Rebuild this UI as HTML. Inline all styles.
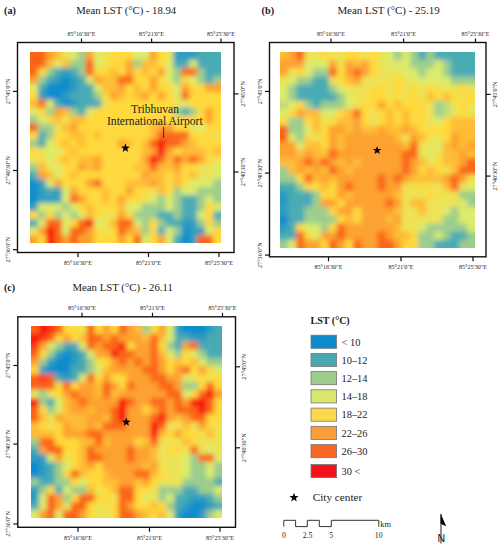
<!DOCTYPE html>
<html><head><meta charset="utf-8"><style>
html,body{margin:0;padding:0;background:#fff;width:502px;height:550px;overflow:hidden}
svg{display:block}
text{font-family:"Liberation Serif",serif;fill:#1a1a1a}
.sm{font-size:6.1px;fill:#1e1e1e}
.lab{font-size:10.2px;font-weight:bold}
.ttl{font-size:10.7px}
.ann{font-size:11.6px;fill:#222}
.lgt{font-size:10px;font-weight:bold}
.lg{font-size:10.4px;fill:#222}
.cc{font-size:11.2px;fill:#222}
.sb{font-size:7.8px;fill:#222}
.na{font-size:10.5px;fill:#111;font-family:"Liberation Sans",sans-serif}
</style></head><body>
<svg width="502" height="550" viewBox="0 0 502 550">
<defs><filter id="bl" x="-10%" y="-10%" width="120%" height="120%"><feGaussianBlur stdDeviation="2.4"/></filter></defs>
<clipPath id="cpa"><rect x="30" y="52" width="191" height="191"/></clipPath><g clip-path="url(#cpa)"><g filter="url(#bl)"><rect x="22.00" y="44.00" width="16.26" height="16.26" fill="#fa6419"/><rect x="37.96" y="44.00" width="8.26" height="16.26" fill="#fa6419"/><rect x="45.92" y="44.00" width="8.26" height="16.26" fill="#fda02d"/><rect x="53.88" y="44.00" width="8.26" height="16.26" fill="#febc34"/><rect x="61.83" y="44.00" width="8.26" height="16.26" fill="#eee252"/><rect x="69.79" y="44.00" width="8.26" height="16.26" fill="#dceb69"/><rect x="77.75" y="44.00" width="8.26" height="16.26" fill="#9bcd8c"/><rect x="85.71" y="44.00" width="8.26" height="16.26" fill="#fda02d"/><rect x="93.67" y="44.00" width="8.26" height="16.26" fill="#dceb69"/><rect x="101.62" y="44.00" width="8.26" height="16.26" fill="#eee252"/><rect x="109.58" y="44.00" width="8.26" height="16.26" fill="#ffd93a"/><rect x="117.54" y="44.00" width="8.26" height="16.26" fill="#ffd93a"/><rect x="125.50" y="44.00" width="8.26" height="16.26" fill="#ffd93a"/><rect x="133.46" y="44.00" width="8.26" height="16.26" fill="#dceb69"/><rect x="141.42" y="44.00" width="8.26" height="16.26" fill="#dceb69"/><rect x="149.38" y="44.00" width="8.26" height="16.26" fill="#fda02d"/><rect x="157.33" y="44.00" width="8.26" height="16.26" fill="#ffd93a"/><rect x="165.29" y="44.00" width="8.26" height="16.26" fill="#eee252"/><rect x="173.25" y="44.00" width="8.26" height="16.26" fill="#2b9bc0"/><rect x="181.21" y="44.00" width="8.26" height="16.26" fill="#2b9bc0"/><rect x="189.17" y="44.00" width="8.26" height="16.26" fill="#2b9bc0"/><rect x="197.12" y="44.00" width="8.26" height="16.26" fill="#46aab4"/><rect x="205.08" y="44.00" width="8.26" height="16.26" fill="#46aab4"/><rect x="213.04" y="44.00" width="16.26" height="16.26" fill="#46aab4"/><rect x="22.00" y="59.96" width="16.26" height="8.26" fill="#fa6419"/><rect x="37.96" y="59.96" width="8.26" height="8.26" fill="#fa6419"/><rect x="45.92" y="59.96" width="8.26" height="8.26" fill="#febc34"/><rect x="53.88" y="59.96" width="8.26" height="8.26" fill="#dceb69"/><rect x="61.83" y="59.96" width="8.26" height="8.26" fill="#febc34"/><rect x="69.79" y="59.96" width="8.26" height="8.26" fill="#9bcd8c"/><rect x="77.75" y="59.96" width="8.26" height="8.26" fill="#9bcd8c"/><rect x="85.71" y="59.96" width="8.26" height="8.26" fill="#fa6419"/><rect x="93.67" y="59.96" width="8.26" height="8.26" fill="#dceb69"/><rect x="101.62" y="59.96" width="8.26" height="8.26" fill="#eee252"/><rect x="109.58" y="59.96" width="8.26" height="8.26" fill="#ffd93a"/><rect x="117.54" y="59.96" width="8.26" height="8.26" fill="#ffd93a"/><rect x="125.50" y="59.96" width="8.26" height="8.26" fill="#fda02d"/><rect x="133.46" y="59.96" width="8.26" height="8.26" fill="#9bcd8c"/><rect x="141.42" y="59.96" width="8.26" height="8.26" fill="#febc34"/><rect x="149.38" y="59.96" width="8.26" height="8.26" fill="#febc34"/><rect x="157.33" y="59.96" width="8.26" height="8.26" fill="#ffd93a"/><rect x="165.29" y="59.96" width="8.26" height="8.26" fill="#dceb69"/><rect x="173.25" y="59.96" width="8.26" height="8.26" fill="#46aab4"/><rect x="181.21" y="59.96" width="8.26" height="8.26" fill="#46aab4"/><rect x="189.17" y="59.96" width="8.26" height="8.26" fill="#dceb69"/><rect x="197.12" y="59.96" width="8.26" height="8.26" fill="#46aab4"/><rect x="205.08" y="59.96" width="8.26" height="8.26" fill="#46aab4"/><rect x="213.04" y="59.96" width="16.26" height="8.26" fill="#46aab4"/><rect x="22.00" y="67.92" width="16.26" height="8.26" fill="#fa6419"/><rect x="37.96" y="67.92" width="8.26" height="8.26" fill="#ffd93a"/><rect x="45.92" y="67.92" width="8.26" height="8.26" fill="#9bcd8c"/><rect x="53.88" y="67.92" width="8.26" height="8.26" fill="#46aab4"/><rect x="61.83" y="67.92" width="8.26" height="8.26" fill="#2b9bc0"/><rect x="69.79" y="67.92" width="8.26" height="8.26" fill="#46aab4"/><rect x="77.75" y="67.92" width="8.26" height="8.26" fill="#9bcd8c"/><rect x="85.71" y="67.92" width="8.26" height="8.26" fill="#fa6419"/><rect x="93.67" y="67.92" width="8.26" height="8.26" fill="#ffd93a"/><rect x="101.62" y="67.92" width="8.26" height="8.26" fill="#ffd93a"/><rect x="109.58" y="67.92" width="8.26" height="8.26" fill="#febc34"/><rect x="117.54" y="67.92" width="8.26" height="8.26" fill="#ffd93a"/><rect x="125.50" y="67.92" width="8.26" height="8.26" fill="#fda02d"/><rect x="133.46" y="67.92" width="8.26" height="8.26" fill="#ffd93a"/><rect x="141.42" y="67.92" width="8.26" height="8.26" fill="#febc34"/><rect x="149.38" y="67.92" width="8.26" height="8.26" fill="#ffd93a"/><rect x="157.33" y="67.92" width="8.26" height="8.26" fill="#fda02d"/><rect x="165.29" y="67.92" width="8.26" height="8.26" fill="#dceb69"/><rect x="173.25" y="67.92" width="8.26" height="8.26" fill="#9bcd8c"/><rect x="181.21" y="67.92" width="8.26" height="8.26" fill="#fa6419"/><rect x="189.17" y="67.92" width="8.26" height="8.26" fill="#fa6419"/><rect x="197.12" y="67.92" width="8.26" height="8.26" fill="#9bcd8c"/><rect x="205.08" y="67.92" width="8.26" height="8.26" fill="#46aab4"/><rect x="213.04" y="67.92" width="16.26" height="8.26" fill="#46aab4"/><rect x="22.00" y="75.88" width="16.26" height="8.26" fill="#fda02d"/><rect x="37.96" y="75.88" width="8.26" height="8.26" fill="#9bcd8c"/><rect x="45.92" y="75.88" width="8.26" height="8.26" fill="#46aab4"/><rect x="53.88" y="75.88" width="8.26" height="8.26" fill="#2b9bc0"/><rect x="61.83" y="75.88" width="8.26" height="8.26" fill="#108ccd"/><rect x="69.79" y="75.88" width="8.26" height="8.26" fill="#2b9bc0"/><rect x="77.75" y="75.88" width="8.26" height="8.26" fill="#46aab4"/><rect x="85.71" y="75.88" width="8.26" height="8.26" fill="#dceb69"/><rect x="93.67" y="75.88" width="8.26" height="8.26" fill="#fda02d"/><rect x="101.62" y="75.88" width="8.26" height="8.26" fill="#febc34"/><rect x="109.58" y="75.88" width="8.26" height="8.26" fill="#febc34"/><rect x="117.54" y="75.88" width="8.26" height="8.26" fill="#fa6419"/><rect x="125.50" y="75.88" width="8.26" height="8.26" fill="#fa6419"/><rect x="133.46" y="75.88" width="8.26" height="8.26" fill="#ffd93a"/><rect x="141.42" y="75.88" width="8.26" height="8.26" fill="#ffd93a"/><rect x="149.38" y="75.88" width="8.26" height="8.26" fill="#fda02d"/><rect x="157.33" y="75.88" width="8.26" height="8.26" fill="#ffd93a"/><rect x="165.29" y="75.88" width="8.26" height="8.26" fill="#dceb69"/><rect x="173.25" y="75.88" width="8.26" height="8.26" fill="#9bcd8c"/><rect x="181.21" y="75.88" width="8.26" height="8.26" fill="#ffd93a"/><rect x="189.17" y="75.88" width="8.26" height="8.26" fill="#dceb69"/><rect x="197.12" y="75.88" width="8.26" height="8.26" fill="#9bcd8c"/><rect x="205.08" y="75.88" width="8.26" height="8.26" fill="#46aab4"/><rect x="213.04" y="75.88" width="16.26" height="8.26" fill="#9bcd8c"/><rect x="22.00" y="83.83" width="16.26" height="8.26" fill="#dceb69"/><rect x="37.96" y="83.83" width="8.26" height="8.26" fill="#46aab4"/><rect x="45.92" y="83.83" width="8.26" height="8.26" fill="#108ccd"/><rect x="53.88" y="83.83" width="8.26" height="8.26" fill="#108ccd"/><rect x="61.83" y="83.83" width="8.26" height="8.26" fill="#108ccd"/><rect x="69.79" y="83.83" width="8.26" height="8.26" fill="#2b9bc0"/><rect x="77.75" y="83.83" width="8.26" height="8.26" fill="#46aab4"/><rect x="85.71" y="83.83" width="8.26" height="8.26" fill="#46aab4"/><rect x="93.67" y="83.83" width="8.26" height="8.26" fill="#dceb69"/><rect x="101.62" y="83.83" width="8.26" height="8.26" fill="#febc34"/><rect x="109.58" y="83.83" width="8.26" height="8.26" fill="#febc34"/><rect x="117.54" y="83.83" width="8.26" height="8.26" fill="#fda02d"/><rect x="125.50" y="83.83" width="8.26" height="8.26" fill="#ffd93a"/><rect x="133.46" y="83.83" width="8.26" height="8.26" fill="#febc34"/><rect x="141.42" y="83.83" width="8.26" height="8.26" fill="#ffd93a"/><rect x="149.38" y="83.83" width="8.26" height="8.26" fill="#fda02d"/><rect x="157.33" y="83.83" width="8.26" height="8.26" fill="#ffd93a"/><rect x="165.29" y="83.83" width="8.26" height="8.26" fill="#ffd93a"/><rect x="173.25" y="83.83" width="8.26" height="8.26" fill="#dceb69"/><rect x="181.21" y="83.83" width="8.26" height="8.26" fill="#fda02d"/><rect x="189.17" y="83.83" width="8.26" height="8.26" fill="#ffd93a"/><rect x="197.12" y="83.83" width="8.26" height="8.26" fill="#ffd93a"/><rect x="205.08" y="83.83" width="8.26" height="8.26" fill="#fda02d"/><rect x="213.04" y="83.83" width="16.26" height="8.26" fill="#fda02d"/><rect x="22.00" y="91.79" width="16.26" height="8.26" fill="#ffd93a"/><rect x="37.96" y="91.79" width="8.26" height="8.26" fill="#2b9bc0"/><rect x="45.92" y="91.79" width="8.26" height="8.26" fill="#108ccd"/><rect x="53.88" y="91.79" width="8.26" height="8.26" fill="#108ccd"/><rect x="61.83" y="91.79" width="8.26" height="8.26" fill="#2b9bc0"/><rect x="69.79" y="91.79" width="8.26" height="8.26" fill="#46aab4"/><rect x="77.75" y="91.79" width="8.26" height="8.26" fill="#46aab4"/><rect x="85.71" y="91.79" width="8.26" height="8.26" fill="#46aab4"/><rect x="93.67" y="91.79" width="8.26" height="8.26" fill="#9bcd8c"/><rect x="101.62" y="91.79" width="8.26" height="8.26" fill="#ffd93a"/><rect x="109.58" y="91.79" width="8.26" height="8.26" fill="#fda02d"/><rect x="117.54" y="91.79" width="8.26" height="8.26" fill="#febc34"/><rect x="125.50" y="91.79" width="8.26" height="8.26" fill="#ffd93a"/><rect x="133.46" y="91.79" width="8.26" height="8.26" fill="#febc34"/><rect x="141.42" y="91.79" width="8.26" height="8.26" fill="#fda02d"/><rect x="149.38" y="91.79" width="8.26" height="8.26" fill="#ffd93a"/><rect x="157.33" y="91.79" width="8.26" height="8.26" fill="#fda02d"/><rect x="165.29" y="91.79" width="8.26" height="8.26" fill="#ffd93a"/><rect x="173.25" y="91.79" width="8.26" height="8.26" fill="#dceb69"/><rect x="181.21" y="91.79" width="8.26" height="8.26" fill="#fa6419"/><rect x="189.17" y="91.79" width="8.26" height="8.26" fill="#ffd93a"/><rect x="197.12" y="91.79" width="8.26" height="8.26" fill="#ffd93a"/><rect x="205.08" y="91.79" width="8.26" height="8.26" fill="#ffd93a"/><rect x="213.04" y="91.79" width="16.26" height="8.26" fill="#ffd93a"/><rect x="22.00" y="99.75" width="16.26" height="8.26" fill="#febc34"/><rect x="37.96" y="99.75" width="8.26" height="8.26" fill="#fa6419"/><rect x="45.92" y="99.75" width="8.26" height="8.26" fill="#dceb69"/><rect x="53.88" y="99.75" width="8.26" height="8.26" fill="#46aab4"/><rect x="61.83" y="99.75" width="8.26" height="8.26" fill="#108ccd"/><rect x="69.79" y="99.75" width="8.26" height="8.26" fill="#2b9bc0"/><rect x="77.75" y="99.75" width="8.26" height="8.26" fill="#46aab4"/><rect x="85.71" y="99.75" width="8.26" height="8.26" fill="#46aab4"/><rect x="93.67" y="99.75" width="8.26" height="8.26" fill="#46aab4"/><rect x="101.62" y="99.75" width="8.26" height="8.26" fill="#eee252"/><rect x="109.58" y="99.75" width="8.26" height="8.26" fill="#ffd93a"/><rect x="117.54" y="99.75" width="8.26" height="8.26" fill="#ffd93a"/><rect x="125.50" y="99.75" width="8.26" height="8.26" fill="#ffd93a"/><rect x="133.46" y="99.75" width="8.26" height="8.26" fill="#ffd93a"/><rect x="141.42" y="99.75" width="8.26" height="8.26" fill="#ffd93a"/><rect x="149.38" y="99.75" width="8.26" height="8.26" fill="#ffd93a"/><rect x="157.33" y="99.75" width="8.26" height="8.26" fill="#ffd93a"/><rect x="165.29" y="99.75" width="8.26" height="8.26" fill="#ffd93a"/><rect x="173.25" y="99.75" width="8.26" height="8.26" fill="#eee252"/><rect x="181.21" y="99.75" width="8.26" height="8.26" fill="#dceb69"/><rect x="189.17" y="99.75" width="8.26" height="8.26" fill="#ffd93a"/><rect x="197.12" y="99.75" width="8.26" height="8.26" fill="#ffd93a"/><rect x="205.08" y="99.75" width="8.26" height="8.26" fill="#ffd93a"/><rect x="213.04" y="99.75" width="16.26" height="8.26" fill="#ffd93a"/><rect x="22.00" y="107.71" width="16.26" height="8.26" fill="#dceb69"/><rect x="37.96" y="107.71" width="8.26" height="8.26" fill="#ffd93a"/><rect x="45.92" y="107.71" width="8.26" height="8.26" fill="#9bcd8c"/><rect x="53.88" y="107.71" width="8.26" height="8.26" fill="#fda02d"/><rect x="61.83" y="107.71" width="8.26" height="8.26" fill="#febc34"/><rect x="69.79" y="107.71" width="8.26" height="8.26" fill="#9bcd8c"/><rect x="77.75" y="107.71" width="8.26" height="8.26" fill="#46aab4"/><rect x="85.71" y="107.71" width="8.26" height="8.26" fill="#dceb69"/><rect x="93.67" y="107.71" width="8.26" height="8.26" fill="#ffd93a"/><rect x="101.62" y="107.71" width="8.26" height="8.26" fill="#ffd93a"/><rect x="109.58" y="107.71" width="8.26" height="8.26" fill="#ffd93a"/><rect x="117.54" y="107.71" width="8.26" height="8.26" fill="#ffd93a"/><rect x="125.50" y="107.71" width="8.26" height="8.26" fill="#ffd93a"/><rect x="133.46" y="107.71" width="8.26" height="8.26" fill="#ffd93a"/><rect x="141.42" y="107.71" width="8.26" height="8.26" fill="#ffd93a"/><rect x="149.38" y="107.71" width="8.26" height="8.26" fill="#ffd93a"/><rect x="157.33" y="107.71" width="8.26" height="8.26" fill="#ffd93a"/><rect x="165.29" y="107.71" width="8.26" height="8.26" fill="#ffd93a"/><rect x="173.25" y="107.71" width="8.26" height="8.26" fill="#9bcd8c"/><rect x="181.21" y="107.71" width="8.26" height="8.26" fill="#46aab4"/><rect x="189.17" y="107.71" width="8.26" height="8.26" fill="#9bcd8c"/><rect x="197.12" y="107.71" width="8.26" height="8.26" fill="#ffd93a"/><rect x="205.08" y="107.71" width="8.26" height="8.26" fill="#fda02d"/><rect x="213.04" y="107.71" width="16.26" height="8.26" fill="#ffd93a"/><rect x="22.00" y="115.67" width="16.26" height="8.26" fill="#9bcd8c"/><rect x="37.96" y="115.67" width="8.26" height="8.26" fill="#dceb69"/><rect x="45.92" y="115.67" width="8.26" height="8.26" fill="#ffd93a"/><rect x="53.88" y="115.67" width="8.26" height="8.26" fill="#febc34"/><rect x="61.83" y="115.67" width="8.26" height="8.26" fill="#eee252"/><rect x="69.79" y="115.67" width="8.26" height="8.26" fill="#febc34"/><rect x="77.75" y="115.67" width="8.26" height="8.26" fill="#febc34"/><rect x="85.71" y="115.67" width="8.26" height="8.26" fill="#ffd93a"/><rect x="93.67" y="115.67" width="8.26" height="8.26" fill="#ffd93a"/><rect x="101.62" y="115.67" width="8.26" height="8.26" fill="#ffd93a"/><rect x="109.58" y="115.67" width="8.26" height="8.26" fill="#ffd93a"/><rect x="117.54" y="115.67" width="8.26" height="8.26" fill="#ffd93a"/><rect x="125.50" y="115.67" width="8.26" height="8.26" fill="#ffd93a"/><rect x="133.46" y="115.67" width="8.26" height="8.26" fill="#ffd93a"/><rect x="141.42" y="115.67" width="8.26" height="8.26" fill="#ffd93a"/><rect x="149.38" y="115.67" width="8.26" height="8.26" fill="#ffd93a"/><rect x="157.33" y="115.67" width="8.26" height="8.26" fill="#ffd93a"/><rect x="165.29" y="115.67" width="8.26" height="8.26" fill="#ffd93a"/><rect x="173.25" y="115.67" width="8.26" height="8.26" fill="#ffd93a"/><rect x="181.21" y="115.67" width="8.26" height="8.26" fill="#ffd93a"/><rect x="189.17" y="115.67" width="8.26" height="8.26" fill="#ffd93a"/><rect x="197.12" y="115.67" width="8.26" height="8.26" fill="#ffd93a"/><rect x="205.08" y="115.67" width="8.26" height="8.26" fill="#fda02d"/><rect x="213.04" y="115.67" width="16.26" height="8.26" fill="#ffd93a"/><rect x="22.00" y="123.62" width="16.26" height="8.26" fill="#fa6419"/><rect x="37.96" y="123.62" width="8.26" height="8.26" fill="#9bcd8c"/><rect x="45.92" y="123.62" width="8.26" height="8.26" fill="#9bcd8c"/><rect x="53.88" y="123.62" width="8.26" height="8.26" fill="#eee252"/><rect x="61.83" y="123.62" width="8.26" height="8.26" fill="#febc34"/><rect x="69.79" y="123.62" width="8.26" height="8.26" fill="#fda02d"/><rect x="77.75" y="123.62" width="8.26" height="8.26" fill="#ffd93a"/><rect x="85.71" y="123.62" width="8.26" height="8.26" fill="#ffd93a"/><rect x="93.67" y="123.62" width="8.26" height="8.26" fill="#ffd93a"/><rect x="101.62" y="123.62" width="8.26" height="8.26" fill="#ffd93a"/><rect x="109.58" y="123.62" width="8.26" height="8.26" fill="#ffd93a"/><rect x="117.54" y="123.62" width="8.26" height="8.26" fill="#ffd93a"/><rect x="125.50" y="123.62" width="8.26" height="8.26" fill="#ffd93a"/><rect x="133.46" y="123.62" width="8.26" height="8.26" fill="#ffd93a"/><rect x="141.42" y="123.62" width="8.26" height="8.26" fill="#ffd93a"/><rect x="149.38" y="123.62" width="8.26" height="8.26" fill="#febc34"/><rect x="157.33" y="123.62" width="8.26" height="8.26" fill="#fda02d"/><rect x="165.29" y="123.62" width="8.26" height="8.26" fill="#fda02d"/><rect x="173.25" y="123.62" width="8.26" height="8.26" fill="#ffd93a"/><rect x="181.21" y="123.62" width="8.26" height="8.26" fill="#ffd93a"/><rect x="189.17" y="123.62" width="8.26" height="8.26" fill="#eee252"/><rect x="197.12" y="123.62" width="8.26" height="8.26" fill="#dceb69"/><rect x="205.08" y="123.62" width="8.26" height="8.26" fill="#ffd93a"/><rect x="213.04" y="123.62" width="16.26" height="8.26" fill="#ffd93a"/><rect x="22.00" y="131.58" width="16.26" height="8.26" fill="#ffd93a"/><rect x="37.96" y="131.58" width="8.26" height="8.26" fill="#46aab4"/><rect x="45.92" y="131.58" width="8.26" height="8.26" fill="#9bcd8c"/><rect x="53.88" y="131.58" width="8.26" height="8.26" fill="#ffd93a"/><rect x="61.83" y="131.58" width="8.26" height="8.26" fill="#ffd93a"/><rect x="69.79" y="131.58" width="8.26" height="8.26" fill="#febc34"/><rect x="77.75" y="131.58" width="8.26" height="8.26" fill="#febc34"/><rect x="85.71" y="131.58" width="8.26" height="8.26" fill="#ffd93a"/><rect x="93.67" y="131.58" width="8.26" height="8.26" fill="#febc34"/><rect x="101.62" y="131.58" width="8.26" height="8.26" fill="#ffd93a"/><rect x="109.58" y="131.58" width="8.26" height="8.26" fill="#ffd93a"/><rect x="117.54" y="131.58" width="8.26" height="8.26" fill="#ffd93a"/><rect x="125.50" y="131.58" width="8.26" height="8.26" fill="#ffd93a"/><rect x="133.46" y="131.58" width="8.26" height="8.26" fill="#ffd93a"/><rect x="141.42" y="131.58" width="8.26" height="8.26" fill="#ffd93a"/><rect x="149.38" y="131.58" width="8.26" height="8.26" fill="#febc34"/><rect x="157.33" y="131.58" width="8.26" height="8.26" fill="#fa6419"/><rect x="165.29" y="131.58" width="8.26" height="8.26" fill="#fa6419"/><rect x="173.25" y="131.58" width="8.26" height="8.26" fill="#fa6419"/><rect x="181.21" y="131.58" width="8.26" height="8.26" fill="#fa6419"/><rect x="189.17" y="131.58" width="8.26" height="8.26" fill="#ffd93a"/><rect x="197.12" y="131.58" width="8.26" height="8.26" fill="#ffd93a"/><rect x="205.08" y="131.58" width="8.26" height="8.26" fill="#ffd93a"/><rect x="213.04" y="131.58" width="16.26" height="8.26" fill="#eee252"/><rect x="22.00" y="139.54" width="16.26" height="8.26" fill="#9bcd8c"/><rect x="37.96" y="139.54" width="8.26" height="8.26" fill="#46aab4"/><rect x="45.92" y="139.54" width="8.26" height="8.26" fill="#dceb69"/><rect x="53.88" y="139.54" width="8.26" height="8.26" fill="#ffd93a"/><rect x="61.83" y="139.54" width="8.26" height="8.26" fill="#febc34"/><rect x="69.79" y="139.54" width="8.26" height="8.26" fill="#ffd93a"/><rect x="77.75" y="139.54" width="8.26" height="8.26" fill="#febc34"/><rect x="85.71" y="139.54" width="8.26" height="8.26" fill="#ffd93a"/><rect x="93.67" y="139.54" width="8.26" height="8.26" fill="#ffd93a"/><rect x="101.62" y="139.54" width="8.26" height="8.26" fill="#ffd93a"/><rect x="109.58" y="139.54" width="8.26" height="8.26" fill="#ffd93a"/><rect x="117.54" y="139.54" width="8.26" height="8.26" fill="#fda02d"/><rect x="125.50" y="139.54" width="8.26" height="8.26" fill="#febc34"/><rect x="133.46" y="139.54" width="8.26" height="8.26" fill="#ffd93a"/><rect x="141.42" y="139.54" width="8.26" height="8.26" fill="#febc34"/><rect x="149.38" y="139.54" width="8.26" height="8.26" fill="#fa6419"/><rect x="157.33" y="139.54" width="8.26" height="8.26" fill="#f80c0c"/><rect x="165.29" y="139.54" width="8.26" height="8.26" fill="#fa6419"/><rect x="173.25" y="139.54" width="8.26" height="8.26" fill="#fa6419"/><rect x="181.21" y="139.54" width="8.26" height="8.26" fill="#fda02d"/><rect x="189.17" y="139.54" width="8.26" height="8.26" fill="#febc34"/><rect x="197.12" y="139.54" width="8.26" height="8.26" fill="#ffd93a"/><rect x="205.08" y="139.54" width="8.26" height="8.26" fill="#ffd93a"/><rect x="213.04" y="139.54" width="16.26" height="8.26" fill="#ffd93a"/><rect x="22.00" y="147.50" width="16.26" height="8.26" fill="#ffd93a"/><rect x="37.96" y="147.50" width="8.26" height="8.26" fill="#eee252"/><rect x="45.92" y="147.50" width="8.26" height="8.26" fill="#dceb69"/><rect x="53.88" y="147.50" width="8.26" height="8.26" fill="#dceb69"/><rect x="61.83" y="147.50" width="8.26" height="8.26" fill="#ffd93a"/><rect x="69.79" y="147.50" width="8.26" height="8.26" fill="#febc34"/><rect x="77.75" y="147.50" width="8.26" height="8.26" fill="#ffd93a"/><rect x="85.71" y="147.50" width="8.26" height="8.26" fill="#ffd93a"/><rect x="93.67" y="147.50" width="8.26" height="8.26" fill="#ffd93a"/><rect x="101.62" y="147.50" width="8.26" height="8.26" fill="#ffd93a"/><rect x="109.58" y="147.50" width="8.26" height="8.26" fill="#ffd93a"/><rect x="117.54" y="147.50" width="8.26" height="8.26" fill="#ffd93a"/><rect x="125.50" y="147.50" width="8.26" height="8.26" fill="#ffd93a"/><rect x="133.46" y="147.50" width="8.26" height="8.26" fill="#ffd93a"/><rect x="141.42" y="147.50" width="8.26" height="8.26" fill="#febc34"/><rect x="149.38" y="147.50" width="8.26" height="8.26" fill="#fda02d"/><rect x="157.33" y="147.50" width="8.26" height="8.26" fill="#f80c0c"/><rect x="165.29" y="147.50" width="8.26" height="8.26" fill="#fda02d"/><rect x="173.25" y="147.50" width="8.26" height="8.26" fill="#ffd93a"/><rect x="181.21" y="147.50" width="8.26" height="8.26" fill="#febc34"/><rect x="189.17" y="147.50" width="8.26" height="8.26" fill="#febc34"/><rect x="197.12" y="147.50" width="8.26" height="8.26" fill="#febc34"/><rect x="205.08" y="147.50" width="8.26" height="8.26" fill="#ffd93a"/><rect x="213.04" y="147.50" width="16.26" height="8.26" fill="#febc34"/><rect x="22.00" y="155.46" width="16.26" height="8.26" fill="#eee252"/><rect x="37.96" y="155.46" width="8.26" height="8.26" fill="#ffd93a"/><rect x="45.92" y="155.46" width="8.26" height="8.26" fill="#dceb69"/><rect x="53.88" y="155.46" width="8.26" height="8.26" fill="#ffd93a"/><rect x="61.83" y="155.46" width="8.26" height="8.26" fill="#febc34"/><rect x="69.79" y="155.46" width="8.26" height="8.26" fill="#ffd93a"/><rect x="77.75" y="155.46" width="8.26" height="8.26" fill="#febc34"/><rect x="85.71" y="155.46" width="8.26" height="8.26" fill="#febc34"/><rect x="93.67" y="155.46" width="8.26" height="8.26" fill="#fda02d"/><rect x="101.62" y="155.46" width="8.26" height="8.26" fill="#ffd93a"/><rect x="109.58" y="155.46" width="8.26" height="8.26" fill="#ffd93a"/><rect x="117.54" y="155.46" width="8.26" height="8.26" fill="#ffd93a"/><rect x="125.50" y="155.46" width="8.26" height="8.26" fill="#ffd93a"/><rect x="133.46" y="155.46" width="8.26" height="8.26" fill="#ffd93a"/><rect x="141.42" y="155.46" width="8.26" height="8.26" fill="#fda02d"/><rect x="149.38" y="155.46" width="8.26" height="8.26" fill="#f80c0c"/><rect x="157.33" y="155.46" width="8.26" height="8.26" fill="#fa6419"/><rect x="165.29" y="155.46" width="8.26" height="8.26" fill="#febc34"/><rect x="173.25" y="155.46" width="8.26" height="8.26" fill="#fa6419"/><rect x="181.21" y="155.46" width="8.26" height="8.26" fill="#fda02d"/><rect x="189.17" y="155.46" width="8.26" height="8.26" fill="#fa6419"/><rect x="197.12" y="155.46" width="8.26" height="8.26" fill="#fda02d"/><rect x="205.08" y="155.46" width="8.26" height="8.26" fill="#ffd93a"/><rect x="213.04" y="155.46" width="16.26" height="8.26" fill="#eee252"/><rect x="22.00" y="163.42" width="16.26" height="8.26" fill="#9bcd8c"/><rect x="37.96" y="163.42" width="8.26" height="8.26" fill="#febc34"/><rect x="45.92" y="163.42" width="8.26" height="8.26" fill="#eee252"/><rect x="53.88" y="163.42" width="8.26" height="8.26" fill="#dceb69"/><rect x="61.83" y="163.42" width="8.26" height="8.26" fill="#ffd93a"/><rect x="69.79" y="163.42" width="8.26" height="8.26" fill="#ffd93a"/><rect x="77.75" y="163.42" width="8.26" height="8.26" fill="#fda02d"/><rect x="85.71" y="163.42" width="8.26" height="8.26" fill="#febc34"/><rect x="93.67" y="163.42" width="8.26" height="8.26" fill="#fda02d"/><rect x="101.62" y="163.42" width="8.26" height="8.26" fill="#ffd93a"/><rect x="109.58" y="163.42" width="8.26" height="8.26" fill="#ffd93a"/><rect x="117.54" y="163.42" width="8.26" height="8.26" fill="#ffd93a"/><rect x="125.50" y="163.42" width="8.26" height="8.26" fill="#ffd93a"/><rect x="133.46" y="163.42" width="8.26" height="8.26" fill="#febc34"/><rect x="141.42" y="163.42" width="8.26" height="8.26" fill="#febc34"/><rect x="149.38" y="163.42" width="8.26" height="8.26" fill="#fa6419"/><rect x="157.33" y="163.42" width="8.26" height="8.26" fill="#febc34"/><rect x="165.29" y="163.42" width="8.26" height="8.26" fill="#febc34"/><rect x="173.25" y="163.42" width="8.26" height="8.26" fill="#fda02d"/><rect x="181.21" y="163.42" width="8.26" height="8.26" fill="#ffd93a"/><rect x="189.17" y="163.42" width="8.26" height="8.26" fill="#ffd93a"/><rect x="197.12" y="163.42" width="8.26" height="8.26" fill="#eee252"/><rect x="205.08" y="163.42" width="8.26" height="8.26" fill="#eee252"/><rect x="213.04" y="163.42" width="16.26" height="8.26" fill="#dceb69"/><rect x="22.00" y="171.38" width="16.26" height="8.26" fill="#46aab4"/><rect x="37.96" y="171.38" width="8.26" height="8.26" fill="#fda02d"/><rect x="45.92" y="171.38" width="8.26" height="8.26" fill="#febc34"/><rect x="53.88" y="171.38" width="8.26" height="8.26" fill="#dceb69"/><rect x="61.83" y="171.38" width="8.26" height="8.26" fill="#ffd93a"/><rect x="69.79" y="171.38" width="8.26" height="8.26" fill="#febc34"/><rect x="77.75" y="171.38" width="8.26" height="8.26" fill="#ffd93a"/><rect x="85.71" y="171.38" width="8.26" height="8.26" fill="#ffd93a"/><rect x="93.67" y="171.38" width="8.26" height="8.26" fill="#ffd93a"/><rect x="101.62" y="171.38" width="8.26" height="8.26" fill="#ffd93a"/><rect x="109.58" y="171.38" width="8.26" height="8.26" fill="#ffd93a"/><rect x="117.54" y="171.38" width="8.26" height="8.26" fill="#ffd93a"/><rect x="125.50" y="171.38" width="8.26" height="8.26" fill="#ffd93a"/><rect x="133.46" y="171.38" width="8.26" height="8.26" fill="#ffd93a"/><rect x="141.42" y="171.38" width="8.26" height="8.26" fill="#fda02d"/><rect x="149.38" y="171.38" width="8.26" height="8.26" fill="#febc34"/><rect x="157.33" y="171.38" width="8.26" height="8.26" fill="#febc34"/><rect x="165.29" y="171.38" width="8.26" height="8.26" fill="#ffd93a"/><rect x="173.25" y="171.38" width="8.26" height="8.26" fill="#febc34"/><rect x="181.21" y="171.38" width="8.26" height="8.26" fill="#ffd93a"/><rect x="189.17" y="171.38" width="8.26" height="8.26" fill="#febc34"/><rect x="197.12" y="171.38" width="8.26" height="8.26" fill="#eee252"/><rect x="205.08" y="171.38" width="8.26" height="8.26" fill="#eee252"/><rect x="213.04" y="171.38" width="16.26" height="8.26" fill="#dceb69"/><rect x="22.00" y="179.33" width="16.26" height="8.26" fill="#108ccd"/><rect x="37.96" y="179.33" width="8.26" height="8.26" fill="#2b9bc0"/><rect x="45.92" y="179.33" width="8.26" height="8.26" fill="#dceb69"/><rect x="53.88" y="179.33" width="8.26" height="8.26" fill="#fda02d"/><rect x="61.83" y="179.33" width="8.26" height="8.26" fill="#ffd93a"/><rect x="69.79" y="179.33" width="8.26" height="8.26" fill="#ffd93a"/><rect x="77.75" y="179.33" width="8.26" height="8.26" fill="#ffd93a"/><rect x="85.71" y="179.33" width="8.26" height="8.26" fill="#fda02d"/><rect x="93.67" y="179.33" width="8.26" height="8.26" fill="#fa6419"/><rect x="101.62" y="179.33" width="8.26" height="8.26" fill="#ffd93a"/><rect x="109.58" y="179.33" width="8.26" height="8.26" fill="#ffd93a"/><rect x="117.54" y="179.33" width="8.26" height="8.26" fill="#ffd93a"/><rect x="125.50" y="179.33" width="8.26" height="8.26" fill="#febc34"/><rect x="133.46" y="179.33" width="8.26" height="8.26" fill="#febc34"/><rect x="141.42" y="179.33" width="8.26" height="8.26" fill="#febc34"/><rect x="149.38" y="179.33" width="8.26" height="8.26" fill="#fda02d"/><rect x="157.33" y="179.33" width="8.26" height="8.26" fill="#febc34"/><rect x="165.29" y="179.33" width="8.26" height="8.26" fill="#ffd93a"/><rect x="173.25" y="179.33" width="8.26" height="8.26" fill="#febc34"/><rect x="181.21" y="179.33" width="8.26" height="8.26" fill="#ffd93a"/><rect x="189.17" y="179.33" width="8.26" height="8.26" fill="#dceb69"/><rect x="197.12" y="179.33" width="8.26" height="8.26" fill="#dceb69"/><rect x="205.08" y="179.33" width="8.26" height="8.26" fill="#dceb69"/><rect x="213.04" y="179.33" width="16.26" height="8.26" fill="#9bcd8c"/><rect x="22.00" y="187.29" width="16.26" height="8.26" fill="#108ccd"/><rect x="37.96" y="187.29" width="8.26" height="8.26" fill="#2b9bc0"/><rect x="45.92" y="187.29" width="8.26" height="8.26" fill="#46aab4"/><rect x="53.88" y="187.29" width="8.26" height="8.26" fill="#2b9bc0"/><rect x="61.83" y="187.29" width="8.26" height="8.26" fill="#dceb69"/><rect x="69.79" y="187.29" width="8.26" height="8.26" fill="#fda02d"/><rect x="77.75" y="187.29" width="8.26" height="8.26" fill="#ffd93a"/><rect x="85.71" y="187.29" width="8.26" height="8.26" fill="#ffd93a"/><rect x="93.67" y="187.29" width="8.26" height="8.26" fill="#ffd93a"/><rect x="101.62" y="187.29" width="8.26" height="8.26" fill="#febc34"/><rect x="109.58" y="187.29" width="8.26" height="8.26" fill="#ffd93a"/><rect x="117.54" y="187.29" width="8.26" height="8.26" fill="#ffd93a"/><rect x="125.50" y="187.29" width="8.26" height="8.26" fill="#fda02d"/><rect x="133.46" y="187.29" width="8.26" height="8.26" fill="#ffd93a"/><rect x="141.42" y="187.29" width="8.26" height="8.26" fill="#ffd93a"/><rect x="149.38" y="187.29" width="8.26" height="8.26" fill="#eee252"/><rect x="157.33" y="187.29" width="8.26" height="8.26" fill="#febc34"/><rect x="165.29" y="187.29" width="8.26" height="8.26" fill="#ffd93a"/><rect x="173.25" y="187.29" width="8.26" height="8.26" fill="#9bcd8c"/><rect x="181.21" y="187.29" width="8.26" height="8.26" fill="#dceb69"/><rect x="189.17" y="187.29" width="8.26" height="8.26" fill="#dceb69"/><rect x="197.12" y="187.29" width="8.26" height="8.26" fill="#9bcd8c"/><rect x="205.08" y="187.29" width="8.26" height="8.26" fill="#9bcd8c"/><rect x="213.04" y="187.29" width="16.26" height="8.26" fill="#9bcd8c"/><rect x="22.00" y="195.25" width="16.26" height="8.26" fill="#108ccd"/><rect x="37.96" y="195.25" width="8.26" height="8.26" fill="#2b9bc0"/><rect x="45.92" y="195.25" width="8.26" height="8.26" fill="#2b9bc0"/><rect x="53.88" y="195.25" width="8.26" height="8.26" fill="#2b9bc0"/><rect x="61.83" y="195.25" width="8.26" height="8.26" fill="#dceb69"/><rect x="69.79" y="195.25" width="8.26" height="8.26" fill="#fa6419"/><rect x="77.75" y="195.25" width="8.26" height="8.26" fill="#fda02d"/><rect x="85.71" y="195.25" width="8.26" height="8.26" fill="#ffd93a"/><rect x="93.67" y="195.25" width="8.26" height="8.26" fill="#ffd93a"/><rect x="101.62" y="195.25" width="8.26" height="8.26" fill="#febc34"/><rect x="109.58" y="195.25" width="8.26" height="8.26" fill="#ffd93a"/><rect x="117.54" y="195.25" width="8.26" height="8.26" fill="#fda02d"/><rect x="125.50" y="195.25" width="8.26" height="8.26" fill="#ffd93a"/><rect x="133.46" y="195.25" width="8.26" height="8.26" fill="#ffd93a"/><rect x="141.42" y="195.25" width="8.26" height="8.26" fill="#eee252"/><rect x="149.38" y="195.25" width="8.26" height="8.26" fill="#dceb69"/><rect x="157.33" y="195.25" width="8.26" height="8.26" fill="#9bcd8c"/><rect x="165.29" y="195.25" width="8.26" height="8.26" fill="#dceb69"/><rect x="173.25" y="195.25" width="8.26" height="8.26" fill="#9bcd8c"/><rect x="181.21" y="195.25" width="8.26" height="8.26" fill="#46aab4"/><rect x="189.17" y="195.25" width="8.26" height="8.26" fill="#46aab4"/><rect x="197.12" y="195.25" width="8.26" height="8.26" fill="#9bcd8c"/><rect x="205.08" y="195.25" width="8.26" height="8.26" fill="#dceb69"/><rect x="213.04" y="195.25" width="16.26" height="8.26" fill="#9bcd8c"/><rect x="22.00" y="203.21" width="16.26" height="8.26" fill="#2b9bc0"/><rect x="37.96" y="203.21" width="8.26" height="8.26" fill="#dceb69"/><rect x="45.92" y="203.21" width="8.26" height="8.26" fill="#dceb69"/><rect x="53.88" y="203.21" width="8.26" height="8.26" fill="#dceb69"/><rect x="61.83" y="203.21" width="8.26" height="8.26" fill="#9bcd8c"/><rect x="69.79" y="203.21" width="8.26" height="8.26" fill="#dceb69"/><rect x="77.75" y="203.21" width="8.26" height="8.26" fill="#ffd93a"/><rect x="85.71" y="203.21" width="8.26" height="8.26" fill="#febc34"/><rect x="93.67" y="203.21" width="8.26" height="8.26" fill="#ffd93a"/><rect x="101.62" y="203.21" width="8.26" height="8.26" fill="#ffd93a"/><rect x="109.58" y="203.21" width="8.26" height="8.26" fill="#ffd93a"/><rect x="117.54" y="203.21" width="8.26" height="8.26" fill="#febc34"/><rect x="125.50" y="203.21" width="8.26" height="8.26" fill="#dceb69"/><rect x="133.46" y="203.21" width="8.26" height="8.26" fill="#dceb69"/><rect x="141.42" y="203.21" width="8.26" height="8.26" fill="#9bcd8c"/><rect x="149.38" y="203.21" width="8.26" height="8.26" fill="#9bcd8c"/><rect x="157.33" y="203.21" width="8.26" height="8.26" fill="#9bcd8c"/><rect x="165.29" y="203.21" width="8.26" height="8.26" fill="#dceb69"/><rect x="173.25" y="203.21" width="8.26" height="8.26" fill="#9bcd8c"/><rect x="181.21" y="203.21" width="8.26" height="8.26" fill="#46aab4"/><rect x="189.17" y="203.21" width="8.26" height="8.26" fill="#46aab4"/><rect x="197.12" y="203.21" width="8.26" height="8.26" fill="#9bcd8c"/><rect x="205.08" y="203.21" width="8.26" height="8.26" fill="#ffd93a"/><rect x="213.04" y="203.21" width="16.26" height="8.26" fill="#dceb69"/><rect x="22.00" y="211.17" width="16.26" height="8.26" fill="#ffd93a"/><rect x="37.96" y="211.17" width="8.26" height="8.26" fill="#9bcd8c"/><rect x="45.92" y="211.17" width="8.26" height="8.26" fill="#ffd93a"/><rect x="53.88" y="211.17" width="8.26" height="8.26" fill="#9bcd8c"/><rect x="61.83" y="211.17" width="8.26" height="8.26" fill="#dceb69"/><rect x="69.79" y="211.17" width="8.26" height="8.26" fill="#9bcd8c"/><rect x="77.75" y="211.17" width="8.26" height="8.26" fill="#dceb69"/><rect x="85.71" y="211.17" width="8.26" height="8.26" fill="#febc34"/><rect x="93.67" y="211.17" width="8.26" height="8.26" fill="#ffd93a"/><rect x="101.62" y="211.17" width="8.26" height="8.26" fill="#eee252"/><rect x="109.58" y="211.17" width="8.26" height="8.26" fill="#eee252"/><rect x="117.54" y="211.17" width="8.26" height="8.26" fill="#fda02d"/><rect x="125.50" y="211.17" width="8.26" height="8.26" fill="#ffd93a"/><rect x="133.46" y="211.17" width="8.26" height="8.26" fill="#9bcd8c"/><rect x="141.42" y="211.17" width="8.26" height="8.26" fill="#9bcd8c"/><rect x="149.38" y="211.17" width="8.26" height="8.26" fill="#9bcd8c"/><rect x="157.33" y="211.17" width="8.26" height="8.26" fill="#46aab4"/><rect x="165.29" y="211.17" width="8.26" height="8.26" fill="#46aab4"/><rect x="173.25" y="211.17" width="8.26" height="8.26" fill="#9bcd8c"/><rect x="181.21" y="211.17" width="8.26" height="8.26" fill="#46aab4"/><rect x="189.17" y="211.17" width="8.26" height="8.26" fill="#46aab4"/><rect x="197.12" y="211.17" width="8.26" height="8.26" fill="#dceb69"/><rect x="205.08" y="211.17" width="8.26" height="8.26" fill="#ffd93a"/><rect x="213.04" y="211.17" width="16.26" height="8.26" fill="#46aab4"/><rect x="22.00" y="219.12" width="16.26" height="8.26" fill="#46aab4"/><rect x="37.96" y="219.12" width="8.26" height="8.26" fill="#dceb69"/><rect x="45.92" y="219.12" width="8.26" height="8.26" fill="#fa6419"/><rect x="53.88" y="219.12" width="8.26" height="8.26" fill="#fa6419"/><rect x="61.83" y="219.12" width="8.26" height="8.26" fill="#dceb69"/><rect x="69.79" y="219.12" width="8.26" height="8.26" fill="#ffd93a"/><rect x="77.75" y="219.12" width="8.26" height="8.26" fill="#fa6419"/><rect x="85.71" y="219.12" width="8.26" height="8.26" fill="#f80c0c"/><rect x="93.67" y="219.12" width="8.26" height="8.26" fill="#dceb69"/><rect x="101.62" y="219.12" width="8.26" height="8.26" fill="#eee252"/><rect x="109.58" y="219.12" width="8.26" height="8.26" fill="#febc34"/><rect x="117.54" y="219.12" width="8.26" height="8.26" fill="#fa6419"/><rect x="125.50" y="219.12" width="8.26" height="8.26" fill="#fa6419"/><rect x="133.46" y="219.12" width="8.26" height="8.26" fill="#dceb69"/><rect x="141.42" y="219.12" width="8.26" height="8.26" fill="#9bcd8c"/><rect x="149.38" y="219.12" width="8.26" height="8.26" fill="#ffd93a"/><rect x="157.33" y="219.12" width="8.26" height="8.26" fill="#9bcd8c"/><rect x="165.29" y="219.12" width="8.26" height="8.26" fill="#46aab4"/><rect x="173.25" y="219.12" width="8.26" height="8.26" fill="#46aab4"/><rect x="181.21" y="219.12" width="8.26" height="8.26" fill="#2b9bc0"/><rect x="189.17" y="219.12" width="8.26" height="8.26" fill="#2b9bc0"/><rect x="197.12" y="219.12" width="8.26" height="8.26" fill="#9bcd8c"/><rect x="205.08" y="219.12" width="8.26" height="8.26" fill="#ffd93a"/><rect x="213.04" y="219.12" width="16.26" height="8.26" fill="#9bcd8c"/><rect x="22.00" y="227.08" width="16.26" height="8.26" fill="#dceb69"/><rect x="37.96" y="227.08" width="8.26" height="8.26" fill="#fda02d"/><rect x="45.92" y="227.08" width="8.26" height="8.26" fill="#f80c0c"/><rect x="53.88" y="227.08" width="8.26" height="8.26" fill="#fa6419"/><rect x="61.83" y="227.08" width="8.26" height="8.26" fill="#dceb69"/><rect x="69.79" y="227.08" width="8.26" height="8.26" fill="#fa6419"/><rect x="77.75" y="227.08" width="8.26" height="8.26" fill="#fa6419"/><rect x="85.71" y="227.08" width="8.26" height="8.26" fill="#fda02d"/><rect x="93.67" y="227.08" width="8.26" height="8.26" fill="#ffd93a"/><rect x="101.62" y="227.08" width="8.26" height="8.26" fill="#eee252"/><rect x="109.58" y="227.08" width="8.26" height="8.26" fill="#ffd93a"/><rect x="117.54" y="227.08" width="8.26" height="8.26" fill="#fa6419"/><rect x="125.50" y="227.08" width="8.26" height="8.26" fill="#fda02d"/><rect x="133.46" y="227.08" width="8.26" height="8.26" fill="#febc34"/><rect x="141.42" y="227.08" width="8.26" height="8.26" fill="#9bcd8c"/><rect x="149.38" y="227.08" width="8.26" height="8.26" fill="#ffd93a"/><rect x="157.33" y="227.08" width="8.26" height="8.26" fill="#46aab4"/><rect x="165.29" y="227.08" width="8.26" height="8.26" fill="#dceb69"/><rect x="173.25" y="227.08" width="8.26" height="8.26" fill="#9bcd8c"/><rect x="181.21" y="227.08" width="8.26" height="8.26" fill="#108ccd"/><rect x="189.17" y="227.08" width="8.26" height="8.26" fill="#2b9bc0"/><rect x="197.12" y="227.08" width="8.26" height="8.26" fill="#2b9bc0"/><rect x="205.08" y="227.08" width="8.26" height="8.26" fill="#dceb69"/><rect x="213.04" y="227.08" width="16.26" height="8.26" fill="#ffd93a"/><rect x="22.00" y="235.04" width="16.26" height="16.26" fill="#fda02d"/><rect x="37.96" y="235.04" width="8.26" height="16.26" fill="#ffd93a"/><rect x="45.92" y="235.04" width="8.26" height="16.26" fill="#f80c0c"/><rect x="53.88" y="235.04" width="8.26" height="16.26" fill="#fa6419"/><rect x="61.83" y="235.04" width="8.26" height="16.26" fill="#fda02d"/><rect x="69.79" y="235.04" width="8.26" height="16.26" fill="#fa6419"/><rect x="77.75" y="235.04" width="8.26" height="16.26" fill="#fda02d"/><rect x="85.71" y="235.04" width="8.26" height="16.26" fill="#fda02d"/><rect x="93.67" y="235.04" width="8.26" height="16.26" fill="#ffd93a"/><rect x="101.62" y="235.04" width="8.26" height="16.26" fill="#ffd93a"/><rect x="109.58" y="235.04" width="8.26" height="16.26" fill="#ffd93a"/><rect x="117.54" y="235.04" width="8.26" height="16.26" fill="#fda02d"/><rect x="125.50" y="235.04" width="8.26" height="16.26" fill="#ffd93a"/><rect x="133.46" y="235.04" width="8.26" height="16.26" fill="#fa6419"/><rect x="141.42" y="235.04" width="8.26" height="16.26" fill="#dceb69"/><rect x="149.38" y="235.04" width="8.26" height="16.26" fill="#ffd93a"/><rect x="157.33" y="235.04" width="8.26" height="16.26" fill="#fda02d"/><rect x="165.29" y="235.04" width="8.26" height="16.26" fill="#dceb69"/><rect x="173.25" y="235.04" width="8.26" height="16.26" fill="#46aab4"/><rect x="181.21" y="235.04" width="8.26" height="16.26" fill="#108ccd"/><rect x="189.17" y="235.04" width="8.26" height="16.26" fill="#2b9bc0"/><rect x="197.12" y="235.04" width="8.26" height="16.26" fill="#fa6419"/><rect x="205.08" y="235.04" width="8.26" height="16.26" fill="#fa6419"/><rect x="213.04" y="235.04" width="16.26" height="16.26" fill="#ffd93a"/></g></g>
<clipPath id="cpb"><rect x="280" y="52" width="195" height="196"/></clipPath><g clip-path="url(#cpb)"><g filter="url(#bl)"><rect x="272.00" y="44.00" width="16.43" height="16.47" fill="#febc34"/><rect x="288.12" y="44.00" width="8.43" height="16.47" fill="#fda02d"/><rect x="296.25" y="44.00" width="8.43" height="16.47" fill="#fa6419"/><rect x="304.38" y="44.00" width="8.43" height="16.47" fill="#eee252"/><rect x="312.50" y="44.00" width="8.43" height="16.47" fill="#eee252"/><rect x="320.62" y="44.00" width="8.43" height="16.47" fill="#ffd93a"/><rect x="328.75" y="44.00" width="8.43" height="16.47" fill="#eee252"/><rect x="336.88" y="44.00" width="8.43" height="16.47" fill="#eee252"/><rect x="345.00" y="44.00" width="8.43" height="16.47" fill="#ffd93a"/><rect x="353.12" y="44.00" width="8.43" height="16.47" fill="#ffd93a"/><rect x="361.25" y="44.00" width="8.43" height="16.47" fill="#eee252"/><rect x="369.38" y="44.00" width="8.43" height="16.47" fill="#ffd93a"/><rect x="377.50" y="44.00" width="8.43" height="16.47" fill="#eee252"/><rect x="385.62" y="44.00" width="8.43" height="16.47" fill="#dceb69"/><rect x="393.75" y="44.00" width="8.43" height="16.47" fill="#9bcd8c"/><rect x="401.88" y="44.00" width="8.43" height="16.47" fill="#dceb69"/><rect x="410.00" y="44.00" width="8.43" height="16.47" fill="#9bcd8c"/><rect x="418.12" y="44.00" width="8.43" height="16.47" fill="#46aab4"/><rect x="426.25" y="44.00" width="8.43" height="16.47" fill="#9bcd8c"/><rect x="434.38" y="44.00" width="8.43" height="16.47" fill="#46aab4"/><rect x="442.50" y="44.00" width="8.43" height="16.47" fill="#46aab4"/><rect x="450.62" y="44.00" width="8.43" height="16.47" fill="#46aab4"/><rect x="458.75" y="44.00" width="8.43" height="16.47" fill="#46aab4"/><rect x="466.88" y="44.00" width="16.43" height="16.47" fill="#46aab4"/><rect x="272.00" y="60.17" width="16.43" height="8.47" fill="#fda02d"/><rect x="288.12" y="60.17" width="8.43" height="8.47" fill="#fda02d"/><rect x="296.25" y="60.17" width="8.43" height="8.47" fill="#fda02d"/><rect x="304.38" y="60.17" width="8.43" height="8.47" fill="#dceb69"/><rect x="312.50" y="60.17" width="8.43" height="8.47" fill="#dceb69"/><rect x="320.62" y="60.17" width="8.43" height="8.47" fill="#dceb69"/><rect x="328.75" y="60.17" width="8.43" height="8.47" fill="#fda02d"/><rect x="336.88" y="60.17" width="8.43" height="8.47" fill="#eee252"/><rect x="345.00" y="60.17" width="8.43" height="8.47" fill="#fda02d"/><rect x="353.12" y="60.17" width="8.43" height="8.47" fill="#febc34"/><rect x="361.25" y="60.17" width="8.43" height="8.47" fill="#fda02d"/><rect x="369.38" y="60.17" width="8.43" height="8.47" fill="#ffd93a"/><rect x="377.50" y="60.17" width="8.43" height="8.47" fill="#eee252"/><rect x="385.62" y="60.17" width="8.43" height="8.47" fill="#dceb69"/><rect x="393.75" y="60.17" width="8.43" height="8.47" fill="#dceb69"/><rect x="401.88" y="60.17" width="8.43" height="8.47" fill="#dceb69"/><rect x="410.00" y="60.17" width="8.43" height="8.47" fill="#9bcd8c"/><rect x="418.12" y="60.17" width="8.43" height="8.47" fill="#9bcd8c"/><rect x="426.25" y="60.17" width="8.43" height="8.47" fill="#9bcd8c"/><rect x="434.38" y="60.17" width="8.43" height="8.47" fill="#dceb69"/><rect x="442.50" y="60.17" width="8.43" height="8.47" fill="#9bcd8c"/><rect x="450.62" y="60.17" width="8.43" height="8.47" fill="#46aab4"/><rect x="458.75" y="60.17" width="8.43" height="8.47" fill="#46aab4"/><rect x="466.88" y="60.17" width="16.43" height="8.47" fill="#46aab4"/><rect x="272.00" y="68.33" width="16.43" height="8.47" fill="#fda02d"/><rect x="288.12" y="68.33" width="8.43" height="8.47" fill="#eee252"/><rect x="296.25" y="68.33" width="8.43" height="8.47" fill="#ffd93a"/><rect x="304.38" y="68.33" width="8.43" height="8.47" fill="#dceb69"/><rect x="312.50" y="68.33" width="8.43" height="8.47" fill="#9bcd8c"/><rect x="320.62" y="68.33" width="8.43" height="8.47" fill="#9bcd8c"/><rect x="328.75" y="68.33" width="8.43" height="8.47" fill="#fa6419"/><rect x="336.88" y="68.33" width="8.43" height="8.47" fill="#ffd93a"/><rect x="345.00" y="68.33" width="8.43" height="8.47" fill="#fda02d"/><rect x="353.12" y="68.33" width="8.43" height="8.47" fill="#fa6419"/><rect x="361.25" y="68.33" width="8.43" height="8.47" fill="#fda02d"/><rect x="369.38" y="68.33" width="8.43" height="8.47" fill="#ffd93a"/><rect x="377.50" y="68.33" width="8.43" height="8.47" fill="#eee252"/><rect x="385.62" y="68.33" width="8.43" height="8.47" fill="#eee252"/><rect x="393.75" y="68.33" width="8.43" height="8.47" fill="#eee252"/><rect x="401.88" y="68.33" width="8.43" height="8.47" fill="#dceb69"/><rect x="410.00" y="68.33" width="8.43" height="8.47" fill="#dceb69"/><rect x="418.12" y="68.33" width="8.43" height="8.47" fill="#9bcd8c"/><rect x="426.25" y="68.33" width="8.43" height="8.47" fill="#dceb69"/><rect x="434.38" y="68.33" width="8.43" height="8.47" fill="#dceb69"/><rect x="442.50" y="68.33" width="8.43" height="8.47" fill="#9bcd8c"/><rect x="450.62" y="68.33" width="8.43" height="8.47" fill="#46aab4"/><rect x="458.75" y="68.33" width="8.43" height="8.47" fill="#46aab4"/><rect x="466.88" y="68.33" width="16.43" height="8.47" fill="#46aab4"/><rect x="272.00" y="76.50" width="16.43" height="8.47" fill="#eee252"/><rect x="288.12" y="76.50" width="8.43" height="8.47" fill="#dceb69"/><rect x="296.25" y="76.50" width="8.43" height="8.47" fill="#9bcd8c"/><rect x="304.38" y="76.50" width="8.43" height="8.47" fill="#9bcd8c"/><rect x="312.50" y="76.50" width="8.43" height="8.47" fill="#46aab4"/><rect x="320.62" y="76.50" width="8.43" height="8.47" fill="#46aab4"/><rect x="328.75" y="76.50" width="8.43" height="8.47" fill="#eee252"/><rect x="336.88" y="76.50" width="8.43" height="8.47" fill="#ffd93a"/><rect x="345.00" y="76.50" width="8.43" height="8.47" fill="#febc34"/><rect x="353.12" y="76.50" width="8.43" height="8.47" fill="#fda02d"/><rect x="361.25" y="76.50" width="8.43" height="8.47" fill="#eee252"/><rect x="369.38" y="76.50" width="8.43" height="8.47" fill="#eee252"/><rect x="377.50" y="76.50" width="8.43" height="8.47" fill="#eee252"/><rect x="385.62" y="76.50" width="8.43" height="8.47" fill="#eee252"/><rect x="393.75" y="76.50" width="8.43" height="8.47" fill="#ffd93a"/><rect x="401.88" y="76.50" width="8.43" height="8.47" fill="#eee252"/><rect x="410.00" y="76.50" width="8.43" height="8.47" fill="#dceb69"/><rect x="418.12" y="76.50" width="8.43" height="8.47" fill="#dceb69"/><rect x="426.25" y="76.50" width="8.43" height="8.47" fill="#dceb69"/><rect x="434.38" y="76.50" width="8.43" height="8.47" fill="#dceb69"/><rect x="442.50" y="76.50" width="8.43" height="8.47" fill="#dceb69"/><rect x="450.62" y="76.50" width="8.43" height="8.47" fill="#9bcd8c"/><rect x="458.75" y="76.50" width="8.43" height="8.47" fill="#9bcd8c"/><rect x="466.88" y="76.50" width="16.43" height="8.47" fill="#9bcd8c"/><rect x="272.00" y="84.67" width="16.43" height="8.47" fill="#dceb69"/><rect x="288.12" y="84.67" width="8.43" height="8.47" fill="#9bcd8c"/><rect x="296.25" y="84.67" width="8.43" height="8.47" fill="#46aab4"/><rect x="304.38" y="84.67" width="8.43" height="8.47" fill="#46aab4"/><rect x="312.50" y="84.67" width="8.43" height="8.47" fill="#46aab4"/><rect x="320.62" y="84.67" width="8.43" height="8.47" fill="#46aab4"/><rect x="328.75" y="84.67" width="8.43" height="8.47" fill="#9bcd8c"/><rect x="336.88" y="84.67" width="8.43" height="8.47" fill="#dceb69"/><rect x="345.00" y="84.67" width="8.43" height="8.47" fill="#eee252"/><rect x="353.12" y="84.67" width="8.43" height="8.47" fill="#eee252"/><rect x="361.25" y="84.67" width="8.43" height="8.47" fill="#eee252"/><rect x="369.38" y="84.67" width="8.43" height="8.47" fill="#ffd93a"/><rect x="377.50" y="84.67" width="8.43" height="8.47" fill="#ffd93a"/><rect x="385.62" y="84.67" width="8.43" height="8.47" fill="#eee252"/><rect x="393.75" y="84.67" width="8.43" height="8.47" fill="#ffd93a"/><rect x="401.88" y="84.67" width="8.43" height="8.47" fill="#eee252"/><rect x="410.00" y="84.67" width="8.43" height="8.47" fill="#ffd93a"/><rect x="418.12" y="84.67" width="8.43" height="8.47" fill="#eee252"/><rect x="426.25" y="84.67" width="8.43" height="8.47" fill="#ffd93a"/><rect x="434.38" y="84.67" width="8.43" height="8.47" fill="#eee252"/><rect x="442.50" y="84.67" width="8.43" height="8.47" fill="#eee252"/><rect x="450.62" y="84.67" width="8.43" height="8.47" fill="#eee252"/><rect x="458.75" y="84.67" width="8.43" height="8.47" fill="#ffd93a"/><rect x="466.88" y="84.67" width="16.43" height="8.47" fill="#eee252"/><rect x="272.00" y="92.83" width="16.43" height="8.47" fill="#dceb69"/><rect x="288.12" y="92.83" width="8.43" height="8.47" fill="#9bcd8c"/><rect x="296.25" y="92.83" width="8.43" height="8.47" fill="#46aab4"/><rect x="304.38" y="92.83" width="8.43" height="8.47" fill="#46aab4"/><rect x="312.50" y="92.83" width="8.43" height="8.47" fill="#46aab4"/><rect x="320.62" y="92.83" width="8.43" height="8.47" fill="#46aab4"/><rect x="328.75" y="92.83" width="8.43" height="8.47" fill="#46aab4"/><rect x="336.88" y="92.83" width="8.43" height="8.47" fill="#9bcd8c"/><rect x="345.00" y="92.83" width="8.43" height="8.47" fill="#dceb69"/><rect x="353.12" y="92.83" width="8.43" height="8.47" fill="#eee252"/><rect x="361.25" y="92.83" width="8.43" height="8.47" fill="#eee252"/><rect x="369.38" y="92.83" width="8.43" height="8.47" fill="#ffd93a"/><rect x="377.50" y="92.83" width="8.43" height="8.47" fill="#ffd93a"/><rect x="385.62" y="92.83" width="8.43" height="8.47" fill="#eee252"/><rect x="393.75" y="92.83" width="8.43" height="8.47" fill="#ffd93a"/><rect x="401.88" y="92.83" width="8.43" height="8.47" fill="#eee252"/><rect x="410.00" y="92.83" width="8.43" height="8.47" fill="#ffd93a"/><rect x="418.12" y="92.83" width="8.43" height="8.47" fill="#eee252"/><rect x="426.25" y="92.83" width="8.43" height="8.47" fill="#febc34"/><rect x="434.38" y="92.83" width="8.43" height="8.47" fill="#ffd93a"/><rect x="442.50" y="92.83" width="8.43" height="8.47" fill="#febc34"/><rect x="450.62" y="92.83" width="8.43" height="8.47" fill="#ffd93a"/><rect x="458.75" y="92.83" width="8.43" height="8.47" fill="#eee252"/><rect x="466.88" y="92.83" width="16.43" height="8.47" fill="#ffd93a"/><rect x="272.00" y="101.00" width="16.43" height="8.47" fill="#bcdc7a"/><rect x="288.12" y="101.00" width="8.43" height="8.47" fill="#dceb69"/><rect x="296.25" y="101.00" width="8.43" height="8.47" fill="#ffd93a"/><rect x="304.38" y="101.00" width="8.43" height="8.47" fill="#9bcd8c"/><rect x="312.50" y="101.00" width="8.43" height="8.47" fill="#46aab4"/><rect x="320.62" y="101.00" width="8.43" height="8.47" fill="#9bcd8c"/><rect x="328.75" y="101.00" width="8.43" height="8.47" fill="#9bcd8c"/><rect x="336.88" y="101.00" width="8.43" height="8.47" fill="#9bcd8c"/><rect x="345.00" y="101.00" width="8.43" height="8.47" fill="#dceb69"/><rect x="353.12" y="101.00" width="8.43" height="8.47" fill="#eee252"/><rect x="361.25" y="101.00" width="8.43" height="8.47" fill="#ffd93a"/><rect x="369.38" y="101.00" width="8.43" height="8.47" fill="#ffd93a"/><rect x="377.50" y="101.00" width="8.43" height="8.47" fill="#fda02d"/><rect x="385.62" y="101.00" width="8.43" height="8.47" fill="#ffd93a"/><rect x="393.75" y="101.00" width="8.43" height="8.47" fill="#febc34"/><rect x="401.88" y="101.00" width="8.43" height="8.47" fill="#ffd93a"/><rect x="410.00" y="101.00" width="8.43" height="8.47" fill="#ffd93a"/><rect x="418.12" y="101.00" width="8.43" height="8.47" fill="#ffd93a"/><rect x="426.25" y="101.00" width="8.43" height="8.47" fill="#eee252"/><rect x="434.38" y="101.00" width="8.43" height="8.47" fill="#9bcd8c"/><rect x="442.50" y="101.00" width="8.43" height="8.47" fill="#bcdc7a"/><rect x="450.62" y="101.00" width="8.43" height="8.47" fill="#eee252"/><rect x="458.75" y="101.00" width="8.43" height="8.47" fill="#ffd93a"/><rect x="466.88" y="101.00" width="16.43" height="8.47" fill="#eee252"/><rect x="272.00" y="109.17" width="16.43" height="8.47" fill="#dceb69"/><rect x="288.12" y="109.17" width="8.43" height="8.47" fill="#ffd93a"/><rect x="296.25" y="109.17" width="8.43" height="8.47" fill="#fda02d"/><rect x="304.38" y="109.17" width="8.43" height="8.47" fill="#febc34"/><rect x="312.50" y="109.17" width="8.43" height="8.47" fill="#febc34"/><rect x="320.62" y="109.17" width="8.43" height="8.47" fill="#dceb69"/><rect x="328.75" y="109.17" width="8.43" height="8.47" fill="#dceb69"/><rect x="336.88" y="109.17" width="8.43" height="8.47" fill="#ffd93a"/><rect x="345.00" y="109.17" width="8.43" height="8.47" fill="#febc34"/><rect x="353.12" y="109.17" width="8.43" height="8.47" fill="#fa6419"/><rect x="361.25" y="109.17" width="8.43" height="8.47" fill="#ffd93a"/><rect x="369.38" y="109.17" width="8.43" height="8.47" fill="#eee252"/><rect x="377.50" y="109.17" width="8.43" height="8.47" fill="#ffd93a"/><rect x="385.62" y="109.17" width="8.43" height="8.47" fill="#febc34"/><rect x="393.75" y="109.17" width="8.43" height="8.47" fill="#ffd93a"/><rect x="401.88" y="109.17" width="8.43" height="8.47" fill="#febc34"/><rect x="410.00" y="109.17" width="8.43" height="8.47" fill="#ffd93a"/><rect x="418.12" y="109.17" width="8.43" height="8.47" fill="#ffd93a"/><rect x="426.25" y="109.17" width="8.43" height="8.47" fill="#eee252"/><rect x="434.38" y="109.17" width="8.43" height="8.47" fill="#9bcd8c"/><rect x="442.50" y="109.17" width="8.43" height="8.47" fill="#bcdc7a"/><rect x="450.62" y="109.17" width="8.43" height="8.47" fill="#eee252"/><rect x="458.75" y="109.17" width="8.43" height="8.47" fill="#ffd93a"/><rect x="466.88" y="109.17" width="16.43" height="8.47" fill="#eee252"/><rect x="272.00" y="117.33" width="16.43" height="8.47" fill="#ffd93a"/><rect x="288.12" y="117.33" width="8.43" height="8.47" fill="#9bcd8c"/><rect x="296.25" y="117.33" width="8.43" height="8.47" fill="#9bcd8c"/><rect x="304.38" y="117.33" width="8.43" height="8.47" fill="#ffd93a"/><rect x="312.50" y="117.33" width="8.43" height="8.47" fill="#febc34"/><rect x="320.62" y="117.33" width="8.43" height="8.47" fill="#eee252"/><rect x="328.75" y="117.33" width="8.43" height="8.47" fill="#ffd93a"/><rect x="336.88" y="117.33" width="8.43" height="8.47" fill="#febc34"/><rect x="345.00" y="117.33" width="8.43" height="8.47" fill="#febc34"/><rect x="353.12" y="117.33" width="8.43" height="8.47" fill="#fda02d"/><rect x="361.25" y="117.33" width="8.43" height="8.47" fill="#ffd93a"/><rect x="369.38" y="117.33" width="8.43" height="8.47" fill="#eee252"/><rect x="377.50" y="117.33" width="8.43" height="8.47" fill="#ffd93a"/><rect x="385.62" y="117.33" width="8.43" height="8.47" fill="#febc34"/><rect x="393.75" y="117.33" width="8.43" height="8.47" fill="#ffd93a"/><rect x="401.88" y="117.33" width="8.43" height="8.47" fill="#febc34"/><rect x="410.00" y="117.33" width="8.43" height="8.47" fill="#ffd93a"/><rect x="418.12" y="117.33" width="8.43" height="8.47" fill="#ffd93a"/><rect x="426.25" y="117.33" width="8.43" height="8.47" fill="#eee252"/><rect x="434.38" y="117.33" width="8.43" height="8.47" fill="#dceb69"/><rect x="442.50" y="117.33" width="8.43" height="8.47" fill="#ffd93a"/><rect x="450.62" y="117.33" width="8.43" height="8.47" fill="#febc34"/><rect x="458.75" y="117.33" width="8.43" height="8.47" fill="#febc34"/><rect x="466.88" y="117.33" width="16.43" height="8.47" fill="#febc34"/><rect x="272.00" y="125.50" width="16.43" height="8.47" fill="#fa6419"/><rect x="288.12" y="125.50" width="8.43" height="8.47" fill="#9bcd8c"/><rect x="296.25" y="125.50" width="8.43" height="8.47" fill="#9bcd8c"/><rect x="304.38" y="125.50" width="8.43" height="8.47" fill="#dceb69"/><rect x="312.50" y="125.50" width="8.43" height="8.47" fill="#febc34"/><rect x="320.62" y="125.50" width="8.43" height="8.47" fill="#ffd93a"/><rect x="328.75" y="125.50" width="8.43" height="8.47" fill="#fda02d"/><rect x="336.88" y="125.50" width="8.43" height="8.47" fill="#fda02d"/><rect x="345.00" y="125.50" width="8.43" height="8.47" fill="#febc34"/><rect x="353.12" y="125.50" width="8.43" height="8.47" fill="#fda02d"/><rect x="361.25" y="125.50" width="8.43" height="8.47" fill="#febc34"/><rect x="369.38" y="125.50" width="8.43" height="8.47" fill="#febc34"/><rect x="377.50" y="125.50" width="8.43" height="8.47" fill="#fda02d"/><rect x="385.62" y="125.50" width="8.43" height="8.47" fill="#febc34"/><rect x="393.75" y="125.50" width="8.43" height="8.47" fill="#febc34"/><rect x="401.88" y="125.50" width="8.43" height="8.47" fill="#fda02d"/><rect x="410.00" y="125.50" width="8.43" height="8.47" fill="#febc34"/><rect x="418.12" y="125.50" width="8.43" height="8.47" fill="#ffd93a"/><rect x="426.25" y="125.50" width="8.43" height="8.47" fill="#ffd93a"/><rect x="434.38" y="125.50" width="8.43" height="8.47" fill="#ffd93a"/><rect x="442.50" y="125.50" width="8.43" height="8.47" fill="#ffd93a"/><rect x="450.62" y="125.50" width="8.43" height="8.47" fill="#febc34"/><rect x="458.75" y="125.50" width="8.43" height="8.47" fill="#febc34"/><rect x="466.88" y="125.50" width="16.43" height="8.47" fill="#febc34"/><rect x="272.00" y="133.67" width="16.43" height="8.47" fill="#fa6419"/><rect x="288.12" y="133.67" width="8.43" height="8.47" fill="#dceb69"/><rect x="296.25" y="133.67" width="8.43" height="8.47" fill="#9bcd8c"/><rect x="304.38" y="133.67" width="8.43" height="8.47" fill="#ffd93a"/><rect x="312.50" y="133.67" width="8.43" height="8.47" fill="#eee252"/><rect x="320.62" y="133.67" width="8.43" height="8.47" fill="#ffd93a"/><rect x="328.75" y="133.67" width="8.43" height="8.47" fill="#fda02d"/><rect x="336.88" y="133.67" width="8.43" height="8.47" fill="#febc34"/><rect x="345.00" y="133.67" width="8.43" height="8.47" fill="#fda02d"/><rect x="353.12" y="133.67" width="8.43" height="8.47" fill="#fda02d"/><rect x="361.25" y="133.67" width="8.43" height="8.47" fill="#fda02d"/><rect x="369.38" y="133.67" width="8.43" height="8.47" fill="#fda02d"/><rect x="377.50" y="133.67" width="8.43" height="8.47" fill="#fda02d"/><rect x="385.62" y="133.67" width="8.43" height="8.47" fill="#fda02d"/><rect x="393.75" y="133.67" width="8.43" height="8.47" fill="#febc34"/><rect x="401.88" y="133.67" width="8.43" height="8.47" fill="#eee252"/><rect x="410.00" y="133.67" width="8.43" height="8.47" fill="#fda02d"/><rect x="418.12" y="133.67" width="8.43" height="8.47" fill="#febc34"/><rect x="426.25" y="133.67" width="8.43" height="8.47" fill="#eee252"/><rect x="434.38" y="133.67" width="8.43" height="8.47" fill="#eee252"/><rect x="442.50" y="133.67" width="8.43" height="8.47" fill="#ffd93a"/><rect x="450.62" y="133.67" width="8.43" height="8.47" fill="#fda02d"/><rect x="458.75" y="133.67" width="8.43" height="8.47" fill="#febc34"/><rect x="466.88" y="133.67" width="16.43" height="8.47" fill="#febc34"/><rect x="272.00" y="141.83" width="16.43" height="8.47" fill="#fda02d"/><rect x="288.12" y="141.83" width="8.43" height="8.47" fill="#fda02d"/><rect x="296.25" y="141.83" width="8.43" height="8.47" fill="#dceb69"/><rect x="304.38" y="141.83" width="8.43" height="8.47" fill="#febc34"/><rect x="312.50" y="141.83" width="8.43" height="8.47" fill="#febc34"/><rect x="320.62" y="141.83" width="8.43" height="8.47" fill="#ffd93a"/><rect x="328.75" y="141.83" width="8.43" height="8.47" fill="#fda02d"/><rect x="336.88" y="141.83" width="8.43" height="8.47" fill="#febc34"/><rect x="345.00" y="141.83" width="8.43" height="8.47" fill="#fda02d"/><rect x="353.12" y="141.83" width="8.43" height="8.47" fill="#fda02d"/><rect x="361.25" y="141.83" width="8.43" height="8.47" fill="#fda02d"/><rect x="369.38" y="141.83" width="8.43" height="8.47" fill="#fda02d"/><rect x="377.50" y="141.83" width="8.43" height="8.47" fill="#fda02d"/><rect x="385.62" y="141.83" width="8.43" height="8.47" fill="#fda02d"/><rect x="393.75" y="141.83" width="8.43" height="8.47" fill="#fda02d"/><rect x="401.88" y="141.83" width="8.43" height="8.47" fill="#febc34"/><rect x="410.00" y="141.83" width="8.43" height="8.47" fill="#fa6419"/><rect x="418.12" y="141.83" width="8.43" height="8.47" fill="#eee252"/><rect x="426.25" y="141.83" width="8.43" height="8.47" fill="#eee252"/><rect x="434.38" y="141.83" width="8.43" height="8.47" fill="#dceb69"/><rect x="442.50" y="141.83" width="8.43" height="8.47" fill="#febc34"/><rect x="450.62" y="141.83" width="8.43" height="8.47" fill="#fda02d"/><rect x="458.75" y="141.83" width="8.43" height="8.47" fill="#febc34"/><rect x="466.88" y="141.83" width="16.43" height="8.47" fill="#fda02d"/><rect x="272.00" y="150.00" width="16.43" height="8.47" fill="#fda02d"/><rect x="288.12" y="150.00" width="8.43" height="8.47" fill="#fda02d"/><rect x="296.25" y="150.00" width="8.43" height="8.47" fill="#febc34"/><rect x="304.38" y="150.00" width="8.43" height="8.47" fill="#fda02d"/><rect x="312.50" y="150.00" width="8.43" height="8.47" fill="#febc34"/><rect x="320.62" y="150.00" width="8.43" height="8.47" fill="#febc34"/><rect x="328.75" y="150.00" width="8.43" height="8.47" fill="#fa6419"/><rect x="336.88" y="150.00" width="8.43" height="8.47" fill="#fda02d"/><rect x="345.00" y="150.00" width="8.43" height="8.47" fill="#fda02d"/><rect x="353.12" y="150.00" width="8.43" height="8.47" fill="#fda02d"/><rect x="361.25" y="150.00" width="8.43" height="8.47" fill="#fda02d"/><rect x="369.38" y="150.00" width="8.43" height="8.47" fill="#fda02d"/><rect x="377.50" y="150.00" width="8.43" height="8.47" fill="#fda02d"/><rect x="385.62" y="150.00" width="8.43" height="8.47" fill="#fda02d"/><rect x="393.75" y="150.00" width="8.43" height="8.47" fill="#fda02d"/><rect x="401.88" y="150.00" width="8.43" height="8.47" fill="#fa6419"/><rect x="410.00" y="150.00" width="8.43" height="8.47" fill="#fa6419"/><rect x="418.12" y="150.00" width="8.43" height="8.47" fill="#eee252"/><rect x="426.25" y="150.00" width="8.43" height="8.47" fill="#dceb69"/><rect x="434.38" y="150.00" width="8.43" height="8.47" fill="#eee252"/><rect x="442.50" y="150.00" width="8.43" height="8.47" fill="#febc34"/><rect x="450.62" y="150.00" width="8.43" height="8.47" fill="#febc34"/><rect x="458.75" y="150.00" width="8.43" height="8.47" fill="#fda02d"/><rect x="466.88" y="150.00" width="16.43" height="8.47" fill="#febc34"/><rect x="272.00" y="158.17" width="16.43" height="8.47" fill="#febc34"/><rect x="288.12" y="158.17" width="8.43" height="8.47" fill="#febc34"/><rect x="296.25" y="158.17" width="8.43" height="8.47" fill="#fda02d"/><rect x="304.38" y="158.17" width="8.43" height="8.47" fill="#fa6419"/><rect x="312.50" y="158.17" width="8.43" height="8.47" fill="#fda02d"/><rect x="320.62" y="158.17" width="8.43" height="8.47" fill="#fa6419"/><rect x="328.75" y="158.17" width="8.43" height="8.47" fill="#fda02d"/><rect x="336.88" y="158.17" width="8.43" height="8.47" fill="#febc34"/><rect x="345.00" y="158.17" width="8.43" height="8.47" fill="#fda02d"/><rect x="353.12" y="158.17" width="8.43" height="8.47" fill="#febc34"/><rect x="361.25" y="158.17" width="8.43" height="8.47" fill="#fda02d"/><rect x="369.38" y="158.17" width="8.43" height="8.47" fill="#fda02d"/><rect x="377.50" y="158.17" width="8.43" height="8.47" fill="#fda02d"/><rect x="385.62" y="158.17" width="8.43" height="8.47" fill="#fda02d"/><rect x="393.75" y="158.17" width="8.43" height="8.47" fill="#fda02d"/><rect x="401.88" y="158.17" width="8.43" height="8.47" fill="#fa6419"/><rect x="410.00" y="158.17" width="8.43" height="8.47" fill="#fda02d"/><rect x="418.12" y="158.17" width="8.43" height="8.47" fill="#febc34"/><rect x="426.25" y="158.17" width="8.43" height="8.47" fill="#eee252"/><rect x="434.38" y="158.17" width="8.43" height="8.47" fill="#ffd93a"/><rect x="442.50" y="158.17" width="8.43" height="8.47" fill="#febc34"/><rect x="450.62" y="158.17" width="8.43" height="8.47" fill="#febc34"/><rect x="458.75" y="158.17" width="8.43" height="8.47" fill="#fda02d"/><rect x="466.88" y="158.17" width="16.43" height="8.47" fill="#fa6419"/><rect x="272.00" y="166.33" width="16.43" height="8.47" fill="#9bcd8c"/><rect x="288.12" y="166.33" width="8.43" height="8.47" fill="#febc34"/><rect x="296.25" y="166.33" width="8.43" height="8.47" fill="#fda02d"/><rect x="304.38" y="166.33" width="8.43" height="8.47" fill="#febc34"/><rect x="312.50" y="166.33" width="8.43" height="8.47" fill="#fda02d"/><rect x="320.62" y="166.33" width="8.43" height="8.47" fill="#febc34"/><rect x="328.75" y="166.33" width="8.43" height="8.47" fill="#fa6419"/><rect x="336.88" y="166.33" width="8.43" height="8.47" fill="#fda02d"/><rect x="345.00" y="166.33" width="8.43" height="8.47" fill="#febc34"/><rect x="353.12" y="166.33" width="8.43" height="8.47" fill="#fda02d"/><rect x="361.25" y="166.33" width="8.43" height="8.47" fill="#fda02d"/><rect x="369.38" y="166.33" width="8.43" height="8.47" fill="#fda02d"/><rect x="377.50" y="166.33" width="8.43" height="8.47" fill="#fda02d"/><rect x="385.62" y="166.33" width="8.43" height="8.47" fill="#fda02d"/><rect x="393.75" y="166.33" width="8.43" height="8.47" fill="#fda02d"/><rect x="401.88" y="166.33" width="8.43" height="8.47" fill="#fa6419"/><rect x="410.00" y="166.33" width="8.43" height="8.47" fill="#fda02d"/><rect x="418.12" y="166.33" width="8.43" height="8.47" fill="#ffd93a"/><rect x="426.25" y="166.33" width="8.43" height="8.47" fill="#febc34"/><rect x="434.38" y="166.33" width="8.43" height="8.47" fill="#ffd93a"/><rect x="442.50" y="166.33" width="8.43" height="8.47" fill="#eee252"/><rect x="450.62" y="166.33" width="8.43" height="8.47" fill="#febc34"/><rect x="458.75" y="166.33" width="8.43" height="8.47" fill="#fa6419"/><rect x="466.88" y="166.33" width="16.43" height="8.47" fill="#fa6419"/><rect x="272.00" y="174.50" width="16.43" height="8.47" fill="#9bcd8c"/><rect x="288.12" y="174.50" width="8.43" height="8.47" fill="#9bcd8c"/><rect x="296.25" y="174.50" width="8.43" height="8.47" fill="#ffd93a"/><rect x="304.38" y="174.50" width="8.43" height="8.47" fill="#fa6419"/><rect x="312.50" y="174.50" width="8.43" height="8.47" fill="#febc34"/><rect x="320.62" y="174.50" width="8.43" height="8.47" fill="#fda02d"/><rect x="328.75" y="174.50" width="8.43" height="8.47" fill="#febc34"/><rect x="336.88" y="174.50" width="8.43" height="8.47" fill="#fda02d"/><rect x="345.00" y="174.50" width="8.43" height="8.47" fill="#fda02d"/><rect x="353.12" y="174.50" width="8.43" height="8.47" fill="#fda02d"/><rect x="361.25" y="174.50" width="8.43" height="8.47" fill="#fda02d"/><rect x="369.38" y="174.50" width="8.43" height="8.47" fill="#fda02d"/><rect x="377.50" y="174.50" width="8.43" height="8.47" fill="#fa6419"/><rect x="385.62" y="174.50" width="8.43" height="8.47" fill="#fda02d"/><rect x="393.75" y="174.50" width="8.43" height="8.47" fill="#fa6419"/><rect x="401.88" y="174.50" width="8.43" height="8.47" fill="#fda02d"/><rect x="410.00" y="174.50" width="8.43" height="8.47" fill="#febc34"/><rect x="418.12" y="174.50" width="8.43" height="8.47" fill="#febc34"/><rect x="426.25" y="174.50" width="8.43" height="8.47" fill="#febc34"/><rect x="434.38" y="174.50" width="8.43" height="8.47" fill="#febc34"/><rect x="442.50" y="174.50" width="8.43" height="8.47" fill="#fda02d"/><rect x="450.62" y="174.50" width="8.43" height="8.47" fill="#fa6419"/><rect x="458.75" y="174.50" width="8.43" height="8.47" fill="#fda02d"/><rect x="466.88" y="174.50" width="16.43" height="8.47" fill="#eee252"/><rect x="272.00" y="182.67" width="16.43" height="8.47" fill="#46aab4"/><rect x="288.12" y="182.67" width="8.43" height="8.47" fill="#46aab4"/><rect x="296.25" y="182.67" width="8.43" height="8.47" fill="#9bcd8c"/><rect x="304.38" y="182.67" width="8.43" height="8.47" fill="#ffd93a"/><rect x="312.50" y="182.67" width="8.43" height="8.47" fill="#ffd93a"/><rect x="320.62" y="182.67" width="8.43" height="8.47" fill="#febc34"/><rect x="328.75" y="182.67" width="8.43" height="8.47" fill="#ffd93a"/><rect x="336.88" y="182.67" width="8.43" height="8.47" fill="#fda02d"/><rect x="345.00" y="182.67" width="8.43" height="8.47" fill="#fa6419"/><rect x="353.12" y="182.67" width="8.43" height="8.47" fill="#fda02d"/><rect x="361.25" y="182.67" width="8.43" height="8.47" fill="#fda02d"/><rect x="369.38" y="182.67" width="8.43" height="8.47" fill="#fda02d"/><rect x="377.50" y="182.67" width="8.43" height="8.47" fill="#fa6419"/><rect x="385.62" y="182.67" width="8.43" height="8.47" fill="#fda02d"/><rect x="393.75" y="182.67" width="8.43" height="8.47" fill="#fda02d"/><rect x="401.88" y="182.67" width="8.43" height="8.47" fill="#eee252"/><rect x="410.00" y="182.67" width="8.43" height="8.47" fill="#eee252"/><rect x="418.12" y="182.67" width="8.43" height="8.47" fill="#ffd93a"/><rect x="426.25" y="182.67" width="8.43" height="8.47" fill="#eee252"/><rect x="434.38" y="182.67" width="8.43" height="8.47" fill="#eee252"/><rect x="442.50" y="182.67" width="8.43" height="8.47" fill="#febc34"/><rect x="450.62" y="182.67" width="8.43" height="8.47" fill="#fa6419"/><rect x="458.75" y="182.67" width="8.43" height="8.47" fill="#eee252"/><rect x="466.88" y="182.67" width="16.43" height="8.47" fill="#dceb69"/><rect x="272.00" y="190.83" width="16.43" height="8.47" fill="#2b9bc0"/><rect x="288.12" y="190.83" width="8.43" height="8.47" fill="#46aab4"/><rect x="296.25" y="190.83" width="8.43" height="8.47" fill="#46aab4"/><rect x="304.38" y="190.83" width="8.43" height="8.47" fill="#46aab4"/><rect x="312.50" y="190.83" width="8.43" height="8.47" fill="#9bcd8c"/><rect x="320.62" y="190.83" width="8.43" height="8.47" fill="#ffd93a"/><rect x="328.75" y="190.83" width="8.43" height="8.47" fill="#ffd93a"/><rect x="336.88" y="190.83" width="8.43" height="8.47" fill="#fda02d"/><rect x="345.00" y="190.83" width="8.43" height="8.47" fill="#febc34"/><rect x="353.12" y="190.83" width="8.43" height="8.47" fill="#fda02d"/><rect x="361.25" y="190.83" width="8.43" height="8.47" fill="#fda02d"/><rect x="369.38" y="190.83" width="8.43" height="8.47" fill="#fda02d"/><rect x="377.50" y="190.83" width="8.43" height="8.47" fill="#fda02d"/><rect x="385.62" y="190.83" width="8.43" height="8.47" fill="#fda02d"/><rect x="393.75" y="190.83" width="8.43" height="8.47" fill="#febc34"/><rect x="401.88" y="190.83" width="8.43" height="8.47" fill="#eee252"/><rect x="410.00" y="190.83" width="8.43" height="8.47" fill="#eee252"/><rect x="418.12" y="190.83" width="8.43" height="8.47" fill="#eee252"/><rect x="426.25" y="190.83" width="8.43" height="8.47" fill="#ffd93a"/><rect x="434.38" y="190.83" width="8.43" height="8.47" fill="#eee252"/><rect x="442.50" y="190.83" width="8.43" height="8.47" fill="#eee252"/><rect x="450.62" y="190.83" width="8.43" height="8.47" fill="#eee252"/><rect x="458.75" y="190.83" width="8.43" height="8.47" fill="#9bcd8c"/><rect x="466.88" y="190.83" width="16.43" height="8.47" fill="#9bcd8c"/><rect x="272.00" y="199.00" width="16.43" height="8.47" fill="#2b9bc0"/><rect x="288.12" y="199.00" width="8.43" height="8.47" fill="#46aab4"/><rect x="296.25" y="199.00" width="8.43" height="8.47" fill="#46aab4"/><rect x="304.38" y="199.00" width="8.43" height="8.47" fill="#46aab4"/><rect x="312.50" y="199.00" width="8.43" height="8.47" fill="#9bcd8c"/><rect x="320.62" y="199.00" width="8.43" height="8.47" fill="#fda02d"/><rect x="328.75" y="199.00" width="8.43" height="8.47" fill="#fda02d"/><rect x="336.88" y="199.00" width="8.43" height="8.47" fill="#ffd93a"/><rect x="345.00" y="199.00" width="8.43" height="8.47" fill="#fda02d"/><rect x="353.12" y="199.00" width="8.43" height="8.47" fill="#fda02d"/><rect x="361.25" y="199.00" width="8.43" height="8.47" fill="#fda02d"/><rect x="369.38" y="199.00" width="8.43" height="8.47" fill="#fda02d"/><rect x="377.50" y="199.00" width="8.43" height="8.47" fill="#fda02d"/><rect x="385.62" y="199.00" width="8.43" height="8.47" fill="#fa6419"/><rect x="393.75" y="199.00" width="8.43" height="8.47" fill="#fda02d"/><rect x="401.88" y="199.00" width="8.43" height="8.47" fill="#eee252"/><rect x="410.00" y="199.00" width="8.43" height="8.47" fill="#febc34"/><rect x="418.12" y="199.00" width="8.43" height="8.47" fill="#febc34"/><rect x="426.25" y="199.00" width="8.43" height="8.47" fill="#eee252"/><rect x="434.38" y="199.00" width="8.43" height="8.47" fill="#eee252"/><rect x="442.50" y="199.00" width="8.43" height="8.47" fill="#eee252"/><rect x="450.62" y="199.00" width="8.43" height="8.47" fill="#eee252"/><rect x="458.75" y="199.00" width="8.43" height="8.47" fill="#dceb69"/><rect x="466.88" y="199.00" width="16.43" height="8.47" fill="#9bcd8c"/><rect x="272.00" y="207.17" width="16.43" height="8.47" fill="#2b9bc0"/><rect x="288.12" y="207.17" width="8.43" height="8.47" fill="#46aab4"/><rect x="296.25" y="207.17" width="8.43" height="8.47" fill="#46aab4"/><rect x="304.38" y="207.17" width="8.43" height="8.47" fill="#9bcd8c"/><rect x="312.50" y="207.17" width="8.43" height="8.47" fill="#9bcd8c"/><rect x="320.62" y="207.17" width="8.43" height="8.47" fill="#9bcd8c"/><rect x="328.75" y="207.17" width="8.43" height="8.47" fill="#ffd93a"/><rect x="336.88" y="207.17" width="8.43" height="8.47" fill="#fda02d"/><rect x="345.00" y="207.17" width="8.43" height="8.47" fill="#fda02d"/><rect x="353.12" y="207.17" width="8.43" height="8.47" fill="#ffd93a"/><rect x="361.25" y="207.17" width="8.43" height="8.47" fill="#fda02d"/><rect x="369.38" y="207.17" width="8.43" height="8.47" fill="#fda02d"/><rect x="377.50" y="207.17" width="8.43" height="8.47" fill="#fda02d"/><rect x="385.62" y="207.17" width="8.43" height="8.47" fill="#fda02d"/><rect x="393.75" y="207.17" width="8.43" height="8.47" fill="#febc34"/><rect x="401.88" y="207.17" width="8.43" height="8.47" fill="#eee252"/><rect x="410.00" y="207.17" width="8.43" height="8.47" fill="#eee252"/><rect x="418.12" y="207.17" width="8.43" height="8.47" fill="#febc34"/><rect x="426.25" y="207.17" width="8.43" height="8.47" fill="#eee252"/><rect x="434.38" y="207.17" width="8.43" height="8.47" fill="#eee252"/><rect x="442.50" y="207.17" width="8.43" height="8.47" fill="#dceb69"/><rect x="450.62" y="207.17" width="8.43" height="8.47" fill="#9bcd8c"/><rect x="458.75" y="207.17" width="8.43" height="8.47" fill="#dceb69"/><rect x="466.88" y="207.17" width="16.43" height="8.47" fill="#dceb69"/><rect x="272.00" y="215.33" width="16.43" height="8.47" fill="#108ccd"/><rect x="288.12" y="215.33" width="8.43" height="8.47" fill="#46aab4"/><rect x="296.25" y="215.33" width="8.43" height="8.47" fill="#46aab4"/><rect x="304.38" y="215.33" width="8.43" height="8.47" fill="#9bcd8c"/><rect x="312.50" y="215.33" width="8.43" height="8.47" fill="#9bcd8c"/><rect x="320.62" y="215.33" width="8.43" height="8.47" fill="#9bcd8c"/><rect x="328.75" y="215.33" width="8.43" height="8.47" fill="#9bcd8c"/><rect x="336.88" y="215.33" width="8.43" height="8.47" fill="#ffd93a"/><rect x="345.00" y="215.33" width="8.43" height="8.47" fill="#febc34"/><rect x="353.12" y="215.33" width="8.43" height="8.47" fill="#ffd93a"/><rect x="361.25" y="215.33" width="8.43" height="8.47" fill="#fda02d"/><rect x="369.38" y="215.33" width="8.43" height="8.47" fill="#fda02d"/><rect x="377.50" y="215.33" width="8.43" height="8.47" fill="#fda02d"/><rect x="385.62" y="215.33" width="8.43" height="8.47" fill="#febc34"/><rect x="393.75" y="215.33" width="8.43" height="8.47" fill="#fda02d"/><rect x="401.88" y="215.33" width="8.43" height="8.47" fill="#eee252"/><rect x="410.00" y="215.33" width="8.43" height="8.47" fill="#eee252"/><rect x="418.12" y="215.33" width="8.43" height="8.47" fill="#eee252"/><rect x="426.25" y="215.33" width="8.43" height="8.47" fill="#eee252"/><rect x="434.38" y="215.33" width="8.43" height="8.47" fill="#eee252"/><rect x="442.50" y="215.33" width="8.43" height="8.47" fill="#9bcd8c"/><rect x="450.62" y="215.33" width="8.43" height="8.47" fill="#9bcd8c"/><rect x="458.75" y="215.33" width="8.43" height="8.47" fill="#dceb69"/><rect x="466.88" y="215.33" width="16.43" height="8.47" fill="#dceb69"/><rect x="272.00" y="223.50" width="16.43" height="8.47" fill="#2b9bc0"/><rect x="288.12" y="223.50" width="8.43" height="8.47" fill="#46aab4"/><rect x="296.25" y="223.50" width="8.43" height="8.47" fill="#ffd93a"/><rect x="304.38" y="223.50" width="8.43" height="8.47" fill="#dceb69"/><rect x="312.50" y="223.50" width="8.43" height="8.47" fill="#dceb69"/><rect x="320.62" y="223.50" width="8.43" height="8.47" fill="#9bcd8c"/><rect x="328.75" y="223.50" width="8.43" height="8.47" fill="#ffd93a"/><rect x="336.88" y="223.50" width="8.43" height="8.47" fill="#fa6419"/><rect x="345.00" y="223.50" width="8.43" height="8.47" fill="#fda02d"/><rect x="353.12" y="223.50" width="8.43" height="8.47" fill="#fda02d"/><rect x="361.25" y="223.50" width="8.43" height="8.47" fill="#fda02d"/><rect x="369.38" y="223.50" width="8.43" height="8.47" fill="#fda02d"/><rect x="377.50" y="223.50" width="8.43" height="8.47" fill="#fda02d"/><rect x="385.62" y="223.50" width="8.43" height="8.47" fill="#fda02d"/><rect x="393.75" y="223.50" width="8.43" height="8.47" fill="#febc34"/><rect x="401.88" y="223.50" width="8.43" height="8.47" fill="#eee252"/><rect x="410.00" y="223.50" width="8.43" height="8.47" fill="#eee252"/><rect x="418.12" y="223.50" width="8.43" height="8.47" fill="#dceb69"/><rect x="426.25" y="223.50" width="8.43" height="8.47" fill="#9bcd8c"/><rect x="434.38" y="223.50" width="8.43" height="8.47" fill="#9bcd8c"/><rect x="442.50" y="223.50" width="8.43" height="8.47" fill="#9bcd8c"/><rect x="450.62" y="223.50" width="8.43" height="8.47" fill="#9bcd8c"/><rect x="458.75" y="223.50" width="8.43" height="8.47" fill="#9bcd8c"/><rect x="466.88" y="223.50" width="16.43" height="8.47" fill="#dceb69"/><rect x="272.00" y="231.67" width="16.43" height="8.47" fill="#46aab4"/><rect x="288.12" y="231.67" width="8.43" height="8.47" fill="#46aab4"/><rect x="296.25" y="231.67" width="8.43" height="8.47" fill="#fa6419"/><rect x="304.38" y="231.67" width="8.43" height="8.47" fill="#ffd93a"/><rect x="312.50" y="231.67" width="8.43" height="8.47" fill="#dceb69"/><rect x="320.62" y="231.67" width="8.43" height="8.47" fill="#fda02d"/><rect x="328.75" y="231.67" width="8.43" height="8.47" fill="#fda02d"/><rect x="336.88" y="231.67" width="8.43" height="8.47" fill="#fa6419"/><rect x="345.00" y="231.67" width="8.43" height="8.47" fill="#fda02d"/><rect x="353.12" y="231.67" width="8.43" height="8.47" fill="#fda02d"/><rect x="361.25" y="231.67" width="8.43" height="8.47" fill="#fda02d"/><rect x="369.38" y="231.67" width="8.43" height="8.47" fill="#fda02d"/><rect x="377.50" y="231.67" width="8.43" height="8.47" fill="#fa6419"/><rect x="385.62" y="231.67" width="8.43" height="8.47" fill="#fda02d"/><rect x="393.75" y="231.67" width="8.43" height="8.47" fill="#febc34"/><rect x="401.88" y="231.67" width="8.43" height="8.47" fill="#febc34"/><rect x="410.00" y="231.67" width="8.43" height="8.47" fill="#ffd93a"/><rect x="418.12" y="231.67" width="8.43" height="8.47" fill="#9bcd8c"/><rect x="426.25" y="231.67" width="8.43" height="8.47" fill="#9bcd8c"/><rect x="434.38" y="231.67" width="8.43" height="8.47" fill="#dceb69"/><rect x="442.50" y="231.67" width="8.43" height="8.47" fill="#9bcd8c"/><rect x="450.62" y="231.67" width="8.43" height="8.47" fill="#46aab4"/><rect x="458.75" y="231.67" width="8.43" height="8.47" fill="#46aab4"/><rect x="466.88" y="231.67" width="16.43" height="8.47" fill="#9bcd8c"/><rect x="272.00" y="239.83" width="16.43" height="16.47" fill="#9bcd8c"/><rect x="288.12" y="239.83" width="8.43" height="16.47" fill="#dceb69"/><rect x="296.25" y="239.83" width="8.43" height="16.47" fill="#fa6419"/><rect x="304.38" y="239.83" width="8.43" height="16.47" fill="#fda02d"/><rect x="312.50" y="239.83" width="8.43" height="16.47" fill="#fda02d"/><rect x="320.62" y="239.83" width="8.43" height="16.47" fill="#ffd93a"/><rect x="328.75" y="239.83" width="8.43" height="16.47" fill="#fa6419"/><rect x="336.88" y="239.83" width="8.43" height="16.47" fill="#fda02d"/><rect x="345.00" y="239.83" width="8.43" height="16.47" fill="#ffd93a"/><rect x="353.12" y="239.83" width="8.43" height="16.47" fill="#fa6419"/><rect x="361.25" y="239.83" width="8.43" height="16.47" fill="#fda02d"/><rect x="369.38" y="239.83" width="8.43" height="16.47" fill="#fda02d"/><rect x="377.50" y="239.83" width="8.43" height="16.47" fill="#fa6419"/><rect x="385.62" y="239.83" width="8.43" height="16.47" fill="#fa6419"/><rect x="393.75" y="239.83" width="8.43" height="16.47" fill="#fda02d"/><rect x="401.88" y="239.83" width="8.43" height="16.47" fill="#ffd93a"/><rect x="410.00" y="239.83" width="8.43" height="16.47" fill="#ffd93a"/><rect x="418.12" y="239.83" width="8.43" height="16.47" fill="#9bcd8c"/><rect x="426.25" y="239.83" width="8.43" height="16.47" fill="#9bcd8c"/><rect x="434.38" y="239.83" width="8.43" height="16.47" fill="#46aab4"/><rect x="442.50" y="239.83" width="8.43" height="16.47" fill="#46aab4"/><rect x="450.62" y="239.83" width="8.43" height="16.47" fill="#46aab4"/><rect x="458.75" y="239.83" width="8.43" height="16.47" fill="#9bcd8c"/><rect x="466.88" y="239.83" width="16.43" height="16.47" fill="#9bcd8c"/></g></g>
<clipPath id="cpc"><rect x="31" y="326" width="191" height="192"/></clipPath><g clip-path="url(#cpc)"><g filter="url(#bl)"><rect x="23.00" y="318.00" width="16.26" height="16.30" fill="#fa6419"/><rect x="38.96" y="318.00" width="8.26" height="16.30" fill="#f80c0c"/><rect x="46.92" y="318.00" width="8.26" height="16.30" fill="#f93812"/><rect x="54.88" y="318.00" width="8.26" height="16.30" fill="#fa6419"/><rect x="62.83" y="318.00" width="8.26" height="16.30" fill="#ffd93a"/><rect x="70.79" y="318.00" width="8.26" height="16.30" fill="#ffd93a"/><rect x="78.75" y="318.00" width="8.26" height="16.30" fill="#eee252"/><rect x="86.71" y="318.00" width="8.26" height="16.30" fill="#fa6419"/><rect x="94.67" y="318.00" width="8.26" height="16.30" fill="#ffd93a"/><rect x="102.62" y="318.00" width="8.26" height="16.30" fill="#fda02d"/><rect x="110.58" y="318.00" width="8.26" height="16.30" fill="#ffd93a"/><rect x="118.54" y="318.00" width="8.26" height="16.30" fill="#fa6419"/><rect x="126.50" y="318.00" width="8.26" height="16.30" fill="#fda02d"/><rect x="134.46" y="318.00" width="8.26" height="16.30" fill="#febc34"/><rect x="142.42" y="318.00" width="8.26" height="16.30" fill="#9bcd8c"/><rect x="150.38" y="318.00" width="8.26" height="16.30" fill="#ffd93a"/><rect x="158.33" y="318.00" width="8.26" height="16.30" fill="#fda02d"/><rect x="166.29" y="318.00" width="8.26" height="16.30" fill="#dceb69"/><rect x="174.25" y="318.00" width="8.26" height="16.30" fill="#2b9bc0"/><rect x="182.21" y="318.00" width="8.26" height="16.30" fill="#108ccd"/><rect x="190.17" y="318.00" width="8.26" height="16.30" fill="#108ccd"/><rect x="198.12" y="318.00" width="8.26" height="16.30" fill="#108ccd"/><rect x="206.08" y="318.00" width="8.26" height="16.30" fill="#2b9bc0"/><rect x="214.04" y="318.00" width="16.26" height="16.30" fill="#46aab4"/><rect x="23.00" y="334.00" width="16.26" height="8.30" fill="#f80c0c"/><rect x="38.96" y="334.00" width="8.26" height="8.30" fill="#f93812"/><rect x="46.92" y="334.00" width="8.26" height="8.30" fill="#fa6419"/><rect x="54.88" y="334.00" width="8.26" height="8.30" fill="#ffd93a"/><rect x="62.83" y="334.00" width="8.26" height="8.30" fill="#fda02d"/><rect x="70.79" y="334.00" width="8.26" height="8.30" fill="#ffd93a"/><rect x="78.75" y="334.00" width="8.26" height="8.30" fill="#febc34"/><rect x="86.71" y="334.00" width="8.26" height="8.30" fill="#fa6419"/><rect x="94.67" y="334.00" width="8.26" height="8.30" fill="#fa6419"/><rect x="102.62" y="334.00" width="8.26" height="8.30" fill="#fda02d"/><rect x="110.58" y="334.00" width="8.26" height="8.30" fill="#fa6419"/><rect x="118.54" y="334.00" width="8.26" height="8.30" fill="#fda02d"/><rect x="126.50" y="334.00" width="8.26" height="8.30" fill="#fda02d"/><rect x="134.46" y="334.00" width="8.26" height="8.30" fill="#fda02d"/><rect x="142.42" y="334.00" width="8.26" height="8.30" fill="#febc34"/><rect x="150.38" y="334.00" width="8.26" height="8.30" fill="#fa6419"/><rect x="158.33" y="334.00" width="8.26" height="8.30" fill="#febc34"/><rect x="166.29" y="334.00" width="8.26" height="8.30" fill="#dceb69"/><rect x="174.25" y="334.00" width="8.26" height="8.30" fill="#46aab4"/><rect x="182.21" y="334.00" width="8.26" height="8.30" fill="#46aab4"/><rect x="190.17" y="334.00" width="8.26" height="8.30" fill="#2b9bc0"/><rect x="198.12" y="334.00" width="8.26" height="8.30" fill="#2b9bc0"/><rect x="206.08" y="334.00" width="8.26" height="8.30" fill="#46aab4"/><rect x="214.04" y="334.00" width="16.26" height="8.30" fill="#46aab4"/><rect x="23.00" y="342.00" width="16.26" height="8.30" fill="#f93812"/><rect x="38.96" y="342.00" width="8.26" height="8.30" fill="#fda02d"/><rect x="46.92" y="342.00" width="8.26" height="8.30" fill="#dceb69"/><rect x="54.88" y="342.00" width="8.26" height="8.30" fill="#9bcd8c"/><rect x="62.83" y="342.00" width="8.26" height="8.30" fill="#46aab4"/><rect x="70.79" y="342.00" width="8.26" height="8.30" fill="#46aab4"/><rect x="78.75" y="342.00" width="8.26" height="8.30" fill="#dceb69"/><rect x="86.71" y="342.00" width="8.26" height="8.30" fill="#fa6419"/><rect x="94.67" y="342.00" width="8.26" height="8.30" fill="#fda02d"/><rect x="102.62" y="342.00" width="8.26" height="8.30" fill="#fa6419"/><rect x="110.58" y="342.00" width="8.26" height="8.30" fill="#fa6419"/><rect x="118.54" y="342.00" width="8.26" height="8.30" fill="#f80c0c"/><rect x="126.50" y="342.00" width="8.26" height="8.30" fill="#ffd93a"/><rect x="134.46" y="342.00" width="8.26" height="8.30" fill="#fda02d"/><rect x="142.42" y="342.00" width="8.26" height="8.30" fill="#fda02d"/><rect x="150.38" y="342.00" width="8.26" height="8.30" fill="#fa6419"/><rect x="158.33" y="342.00" width="8.26" height="8.30" fill="#ffd93a"/><rect x="166.29" y="342.00" width="8.26" height="8.30" fill="#9bcd8c"/><rect x="174.25" y="342.00" width="8.26" height="8.30" fill="#46aab4"/><rect x="182.21" y="342.00" width="8.26" height="8.30" fill="#fda02d"/><rect x="190.17" y="342.00" width="8.26" height="8.30" fill="#fa6419"/><rect x="198.12" y="342.00" width="8.26" height="8.30" fill="#46aab4"/><rect x="206.08" y="342.00" width="8.26" height="8.30" fill="#46aab4"/><rect x="214.04" y="342.00" width="16.26" height="8.30" fill="#46aab4"/><rect x="23.00" y="350.00" width="16.26" height="8.30" fill="#fa6419"/><rect x="38.96" y="350.00" width="8.26" height="8.30" fill="#ffd93a"/><rect x="46.92" y="350.00" width="8.26" height="8.30" fill="#9bcd8c"/><rect x="54.88" y="350.00" width="8.26" height="8.30" fill="#2b9bc0"/><rect x="62.83" y="350.00" width="8.26" height="8.30" fill="#108ccd"/><rect x="70.79" y="350.00" width="8.26" height="8.30" fill="#2b9bc0"/><rect x="78.75" y="350.00" width="8.26" height="8.30" fill="#46aab4"/><rect x="86.71" y="350.00" width="8.26" height="8.30" fill="#dceb69"/><rect x="94.67" y="350.00" width="8.26" height="8.30" fill="#fda02d"/><rect x="102.62" y="350.00" width="8.26" height="8.30" fill="#fda02d"/><rect x="110.58" y="350.00" width="8.26" height="8.30" fill="#f80c0c"/><rect x="118.54" y="350.00" width="8.26" height="8.30" fill="#fa6419"/><rect x="126.50" y="350.00" width="8.26" height="8.30" fill="#fa6419"/><rect x="134.46" y="350.00" width="8.26" height="8.30" fill="#fda02d"/><rect x="142.42" y="350.00" width="8.26" height="8.30" fill="#fda02d"/><rect x="150.38" y="350.00" width="8.26" height="8.30" fill="#fa6419"/><rect x="158.33" y="350.00" width="8.26" height="8.30" fill="#febc34"/><rect x="166.29" y="350.00" width="8.26" height="8.30" fill="#dceb69"/><rect x="174.25" y="350.00" width="8.26" height="8.30" fill="#9bcd8c"/><rect x="182.21" y="350.00" width="8.26" height="8.30" fill="#ffd93a"/><rect x="190.17" y="350.00" width="8.26" height="8.30" fill="#dceb69"/><rect x="198.12" y="350.00" width="8.26" height="8.30" fill="#9bcd8c"/><rect x="206.08" y="350.00" width="8.26" height="8.30" fill="#46aab4"/><rect x="214.04" y="350.00" width="16.26" height="8.30" fill="#46aab4"/><rect x="23.00" y="358.00" width="16.26" height="8.30" fill="#fda02d"/><rect x="38.96" y="358.00" width="8.26" height="8.30" fill="#9bcd8c"/><rect x="46.92" y="358.00" width="8.26" height="8.30" fill="#2b9bc0"/><rect x="54.88" y="358.00" width="8.26" height="8.30" fill="#108ccd"/><rect x="62.83" y="358.00" width="8.26" height="8.30" fill="#108ccd"/><rect x="70.79" y="358.00" width="8.26" height="8.30" fill="#2b9bc0"/><rect x="78.75" y="358.00" width="8.26" height="8.30" fill="#46aab4"/><rect x="86.71" y="358.00" width="8.26" height="8.30" fill="#9bcd8c"/><rect x="94.67" y="358.00" width="8.26" height="8.30" fill="#eee252"/><rect x="102.62" y="358.00" width="8.26" height="8.30" fill="#ffd93a"/><rect x="110.58" y="358.00" width="8.26" height="8.30" fill="#fda02d"/><rect x="118.54" y="358.00" width="8.26" height="8.30" fill="#fa6419"/><rect x="126.50" y="358.00" width="8.26" height="8.30" fill="#fda02d"/><rect x="134.46" y="358.00" width="8.26" height="8.30" fill="#fa6419"/><rect x="142.42" y="358.00" width="8.26" height="8.30" fill="#fda02d"/><rect x="150.38" y="358.00" width="8.26" height="8.30" fill="#fa6419"/><rect x="158.33" y="358.00" width="8.26" height="8.30" fill="#fda02d"/><rect x="166.29" y="358.00" width="8.26" height="8.30" fill="#ffd93a"/><rect x="174.25" y="358.00" width="8.26" height="8.30" fill="#febc34"/><rect x="182.21" y="358.00" width="8.26" height="8.30" fill="#ffd93a"/><rect x="190.17" y="358.00" width="8.26" height="8.30" fill="#febc34"/><rect x="198.12" y="358.00" width="8.26" height="8.30" fill="#dceb69"/><rect x="206.08" y="358.00" width="8.26" height="8.30" fill="#9bcd8c"/><rect x="214.04" y="358.00" width="16.26" height="8.30" fill="#9bcd8c"/><rect x="23.00" y="366.00" width="16.26" height="8.30" fill="#ffd93a"/><rect x="38.96" y="366.00" width="8.26" height="8.30" fill="#2b9bc0"/><rect x="46.92" y="366.00" width="8.26" height="8.30" fill="#108ccd"/><rect x="54.88" y="366.00" width="8.26" height="8.30" fill="#108ccd"/><rect x="62.83" y="366.00" width="8.26" height="8.30" fill="#108ccd"/><rect x="70.79" y="366.00" width="8.26" height="8.30" fill="#46aab4"/><rect x="78.75" y="366.00" width="8.26" height="8.30" fill="#46aab4"/><rect x="86.71" y="366.00" width="8.26" height="8.30" fill="#9bcd8c"/><rect x="94.67" y="366.00" width="8.26" height="8.30" fill="#dceb69"/><rect x="102.62" y="366.00" width="8.26" height="8.30" fill="#febc34"/><rect x="110.58" y="366.00" width="8.26" height="8.30" fill="#fda02d"/><rect x="118.54" y="366.00" width="8.26" height="8.30" fill="#fda02d"/><rect x="126.50" y="366.00" width="8.26" height="8.30" fill="#fda02d"/><rect x="134.46" y="366.00" width="8.26" height="8.30" fill="#fda02d"/><rect x="142.42" y="366.00" width="8.26" height="8.30" fill="#fa6419"/><rect x="150.38" y="366.00" width="8.26" height="8.30" fill="#fa6419"/><rect x="158.33" y="366.00" width="8.26" height="8.30" fill="#fda02d"/><rect x="166.29" y="366.00" width="8.26" height="8.30" fill="#ffd93a"/><rect x="174.25" y="366.00" width="8.26" height="8.30" fill="#fda02d"/><rect x="182.21" y="366.00" width="8.26" height="8.30" fill="#fa6419"/><rect x="190.17" y="366.00" width="8.26" height="8.30" fill="#ffd93a"/><rect x="198.12" y="366.00" width="8.26" height="8.30" fill="#fda02d"/><rect x="206.08" y="366.00" width="8.26" height="8.30" fill="#ffd93a"/><rect x="214.04" y="366.00" width="16.26" height="8.30" fill="#dceb69"/><rect x="23.00" y="374.00" width="16.26" height="8.30" fill="#fa6419"/><rect x="38.96" y="374.00" width="8.26" height="8.30" fill="#f93812"/><rect x="46.92" y="374.00" width="8.26" height="8.30" fill="#fa6419"/><rect x="54.88" y="374.00" width="8.26" height="8.30" fill="#46aab4"/><rect x="62.83" y="374.00" width="8.26" height="8.30" fill="#2b9bc0"/><rect x="70.79" y="374.00" width="8.26" height="8.30" fill="#46aab4"/><rect x="78.75" y="374.00" width="8.26" height="8.30" fill="#dceb69"/><rect x="86.71" y="374.00" width="8.26" height="8.30" fill="#fa6419"/><rect x="94.67" y="374.00" width="8.26" height="8.30" fill="#ffd93a"/><rect x="102.62" y="374.00" width="8.26" height="8.30" fill="#fda02d"/><rect x="110.58" y="374.00" width="8.26" height="8.30" fill="#ffd93a"/><rect x="118.54" y="374.00" width="8.26" height="8.30" fill="#ffd93a"/><rect x="126.50" y="374.00" width="8.26" height="8.30" fill="#fda02d"/><rect x="134.46" y="374.00" width="8.26" height="8.30" fill="#fda02d"/><rect x="142.42" y="374.00" width="8.26" height="8.30" fill="#fda02d"/><rect x="150.38" y="374.00" width="8.26" height="8.30" fill="#fa6419"/><rect x="158.33" y="374.00" width="8.26" height="8.30" fill="#fa6419"/><rect x="166.29" y="374.00" width="8.26" height="8.30" fill="#fda02d"/><rect x="174.25" y="374.00" width="8.26" height="8.30" fill="#fda02d"/><rect x="182.21" y="374.00" width="8.26" height="8.30" fill="#dceb69"/><rect x="190.17" y="374.00" width="8.26" height="8.30" fill="#eee252"/><rect x="198.12" y="374.00" width="8.26" height="8.30" fill="#ffd93a"/><rect x="206.08" y="374.00" width="8.26" height="8.30" fill="#eee252"/><rect x="214.04" y="374.00" width="16.26" height="8.30" fill="#ffd93a"/><rect x="23.00" y="382.00" width="16.26" height="8.30" fill="#fa6419"/><rect x="38.96" y="382.00" width="8.26" height="8.30" fill="#fa6419"/><rect x="46.92" y="382.00" width="8.26" height="8.30" fill="#fa6419"/><rect x="54.88" y="382.00" width="8.26" height="8.30" fill="#ffd93a"/><rect x="62.83" y="382.00" width="8.26" height="8.30" fill="#fa6419"/><rect x="70.79" y="382.00" width="8.26" height="8.30" fill="#ffd93a"/><rect x="78.75" y="382.00" width="8.26" height="8.30" fill="#fda02d"/><rect x="86.71" y="382.00" width="8.26" height="8.30" fill="#fda02d"/><rect x="94.67" y="382.00" width="8.26" height="8.30" fill="#febc34"/><rect x="102.62" y="382.00" width="8.26" height="8.30" fill="#fa6419"/><rect x="110.58" y="382.00" width="8.26" height="8.30" fill="#fda02d"/><rect x="118.54" y="382.00" width="8.26" height="8.30" fill="#ffd93a"/><rect x="126.50" y="382.00" width="8.26" height="8.30" fill="#fa6419"/><rect x="134.46" y="382.00" width="8.26" height="8.30" fill="#fda02d"/><rect x="142.42" y="382.00" width="8.26" height="8.30" fill="#fda02d"/><rect x="150.38" y="382.00" width="8.26" height="8.30" fill="#fda02d"/><rect x="158.33" y="382.00" width="8.26" height="8.30" fill="#fa6419"/><rect x="166.29" y="382.00" width="8.26" height="8.30" fill="#fa6419"/><rect x="174.25" y="382.00" width="8.26" height="8.30" fill="#fda02d"/><rect x="182.21" y="382.00" width="8.26" height="8.30" fill="#9bcd8c"/><rect x="190.17" y="382.00" width="8.26" height="8.30" fill="#9bcd8c"/><rect x="198.12" y="382.00" width="8.26" height="8.30" fill="#ffd93a"/><rect x="206.08" y="382.00" width="8.26" height="8.30" fill="#fa6419"/><rect x="214.04" y="382.00" width="16.26" height="8.30" fill="#ffd93a"/><rect x="23.00" y="390.00" width="16.26" height="8.30" fill="#dceb69"/><rect x="38.96" y="390.00" width="8.26" height="8.30" fill="#9bcd8c"/><rect x="46.92" y="390.00" width="8.26" height="8.30" fill="#eee252"/><rect x="54.88" y="390.00" width="8.26" height="8.30" fill="#ffd93a"/><rect x="62.83" y="390.00" width="8.26" height="8.30" fill="#fda02d"/><rect x="70.79" y="390.00" width="8.26" height="8.30" fill="#fa6419"/><rect x="78.75" y="390.00" width="8.26" height="8.30" fill="#fda02d"/><rect x="86.71" y="390.00" width="8.26" height="8.30" fill="#fda02d"/><rect x="94.67" y="390.00" width="8.26" height="8.30" fill="#febc34"/><rect x="102.62" y="390.00" width="8.26" height="8.30" fill="#fa6419"/><rect x="110.58" y="390.00" width="8.26" height="8.30" fill="#febc34"/><rect x="118.54" y="390.00" width="8.26" height="8.30" fill="#fda02d"/><rect x="126.50" y="390.00" width="8.26" height="8.30" fill="#fda02d"/><rect x="134.46" y="390.00" width="8.26" height="8.30" fill="#fda02d"/><rect x="142.42" y="390.00" width="8.26" height="8.30" fill="#fda02d"/><rect x="150.38" y="390.00" width="8.26" height="8.30" fill="#fda02d"/><rect x="158.33" y="390.00" width="8.26" height="8.30" fill="#fda02d"/><rect x="166.29" y="390.00" width="8.26" height="8.30" fill="#fa6419"/><rect x="174.25" y="390.00" width="8.26" height="8.30" fill="#fa6419"/><rect x="182.21" y="390.00" width="8.26" height="8.30" fill="#dceb69"/><rect x="190.17" y="390.00" width="8.26" height="8.30" fill="#ffd93a"/><rect x="198.12" y="390.00" width="8.26" height="8.30" fill="#fa6419"/><rect x="206.08" y="390.00" width="8.26" height="8.30" fill="#f80c0c"/><rect x="214.04" y="390.00" width="16.26" height="8.30" fill="#fda02d"/><rect x="23.00" y="398.00" width="16.26" height="8.30" fill="#f80c0c"/><rect x="38.96" y="398.00" width="8.26" height="8.30" fill="#9bcd8c"/><rect x="46.92" y="398.00" width="8.26" height="8.30" fill="#46aab4"/><rect x="54.88" y="398.00" width="8.26" height="8.30" fill="#dceb69"/><rect x="62.83" y="398.00" width="8.26" height="8.30" fill="#febc34"/><rect x="70.79" y="398.00" width="8.26" height="8.30" fill="#fda02d"/><rect x="78.75" y="398.00" width="8.26" height="8.30" fill="#fa6419"/><rect x="86.71" y="398.00" width="8.26" height="8.30" fill="#fda02d"/><rect x="94.67" y="398.00" width="8.26" height="8.30" fill="#fda02d"/><rect x="102.62" y="398.00" width="8.26" height="8.30" fill="#fda02d"/><rect x="110.58" y="398.00" width="8.26" height="8.30" fill="#fda02d"/><rect x="118.54" y="398.00" width="8.26" height="8.30" fill="#f80c0c"/><rect x="126.50" y="398.00" width="8.26" height="8.30" fill="#fa6419"/><rect x="134.46" y="398.00" width="8.26" height="8.30" fill="#fda02d"/><rect x="142.42" y="398.00" width="8.26" height="8.30" fill="#fda02d"/><rect x="150.38" y="398.00" width="8.26" height="8.30" fill="#fa6419"/><rect x="158.33" y="398.00" width="8.26" height="8.30" fill="#fa6419"/><rect x="166.29" y="398.00" width="8.26" height="8.30" fill="#fda02d"/><rect x="174.25" y="398.00" width="8.26" height="8.30" fill="#fa6419"/><rect x="182.21" y="398.00" width="8.26" height="8.30" fill="#fda02d"/><rect x="190.17" y="398.00" width="8.26" height="8.30" fill="#f80c0c"/><rect x="198.12" y="398.00" width="8.26" height="8.30" fill="#f80c0c"/><rect x="206.08" y="398.00" width="8.26" height="8.30" fill="#fa6419"/><rect x="214.04" y="398.00" width="16.26" height="8.30" fill="#ffd93a"/><rect x="23.00" y="406.00" width="16.26" height="8.30" fill="#fa6419"/><rect x="38.96" y="406.00" width="8.26" height="8.30" fill="#ffd93a"/><rect x="46.92" y="406.00" width="8.26" height="8.30" fill="#9bcd8c"/><rect x="54.88" y="406.00" width="8.26" height="8.30" fill="#dceb69"/><rect x="62.83" y="406.00" width="8.26" height="8.30" fill="#febc34"/><rect x="70.79" y="406.00" width="8.26" height="8.30" fill="#fda02d"/><rect x="78.75" y="406.00" width="8.26" height="8.30" fill="#fda02d"/><rect x="86.71" y="406.00" width="8.26" height="8.30" fill="#febc34"/><rect x="94.67" y="406.00" width="8.26" height="8.30" fill="#fda02d"/><rect x="102.62" y="406.00" width="8.26" height="8.30" fill="#fda02d"/><rect x="110.58" y="406.00" width="8.26" height="8.30" fill="#fa6419"/><rect x="118.54" y="406.00" width="8.26" height="8.30" fill="#f80c0c"/><rect x="126.50" y="406.00" width="8.26" height="8.30" fill="#fda02d"/><rect x="134.46" y="406.00" width="8.26" height="8.30" fill="#fda02d"/><rect x="142.42" y="406.00" width="8.26" height="8.30" fill="#ffd93a"/><rect x="150.38" y="406.00" width="8.26" height="8.30" fill="#fda02d"/><rect x="158.33" y="406.00" width="8.26" height="8.30" fill="#fa6419"/><rect x="166.29" y="406.00" width="8.26" height="8.30" fill="#fda02d"/><rect x="174.25" y="406.00" width="8.26" height="8.30" fill="#fa6419"/><rect x="182.21" y="406.00" width="8.26" height="8.30" fill="#fa6419"/><rect x="190.17" y="406.00" width="8.26" height="8.30" fill="#fa6419"/><rect x="198.12" y="406.00" width="8.26" height="8.30" fill="#f80c0c"/><rect x="206.08" y="406.00" width="8.26" height="8.30" fill="#fa6419"/><rect x="214.04" y="406.00" width="16.26" height="8.30" fill="#ffd93a"/><rect x="23.00" y="414.00" width="16.26" height="8.30" fill="#fa6419"/><rect x="38.96" y="414.00" width="8.26" height="8.30" fill="#febc34"/><rect x="46.92" y="414.00" width="8.26" height="8.30" fill="#eee252"/><rect x="54.88" y="414.00" width="8.26" height="8.30" fill="#fda02d"/><rect x="62.83" y="414.00" width="8.26" height="8.30" fill="#febc34"/><rect x="70.79" y="414.00" width="8.26" height="8.30" fill="#febc34"/><rect x="78.75" y="414.00" width="8.26" height="8.30" fill="#febc34"/><rect x="86.71" y="414.00" width="8.26" height="8.30" fill="#fda02d"/><rect x="94.67" y="414.00" width="8.26" height="8.30" fill="#fda02d"/><rect x="102.62" y="414.00" width="8.26" height="8.30" fill="#febc34"/><rect x="110.58" y="414.00" width="8.26" height="8.30" fill="#fa6419"/><rect x="118.54" y="414.00" width="8.26" height="8.30" fill="#f80c0c"/><rect x="126.50" y="414.00" width="8.26" height="8.30" fill="#fda02d"/><rect x="134.46" y="414.00" width="8.26" height="8.30" fill="#fda02d"/><rect x="142.42" y="414.00" width="8.26" height="8.30" fill="#fda02d"/><rect x="150.38" y="414.00" width="8.26" height="8.30" fill="#fa6419"/><rect x="158.33" y="414.00" width="8.26" height="8.30" fill="#f80c0c"/><rect x="166.29" y="414.00" width="8.26" height="8.30" fill="#fda02d"/><rect x="174.25" y="414.00" width="8.26" height="8.30" fill="#febc34"/><rect x="182.21" y="414.00" width="8.26" height="8.30" fill="#fda02d"/><rect x="190.17" y="414.00" width="8.26" height="8.30" fill="#fa6419"/><rect x="198.12" y="414.00" width="8.26" height="8.30" fill="#fa6419"/><rect x="206.08" y="414.00" width="8.26" height="8.30" fill="#ffd93a"/><rect x="214.04" y="414.00" width="16.26" height="8.30" fill="#ffd93a"/><rect x="23.00" y="422.00" width="16.26" height="8.30" fill="#febc34"/><rect x="38.96" y="422.00" width="8.26" height="8.30" fill="#ffd93a"/><rect x="46.92" y="422.00" width="8.26" height="8.30" fill="#eee252"/><rect x="54.88" y="422.00" width="8.26" height="8.30" fill="#ffd93a"/><rect x="62.83" y="422.00" width="8.26" height="8.30" fill="#fda02d"/><rect x="70.79" y="422.00" width="8.26" height="8.30" fill="#febc34"/><rect x="78.75" y="422.00" width="8.26" height="8.30" fill="#febc34"/><rect x="86.71" y="422.00" width="8.26" height="8.30" fill="#fda02d"/><rect x="94.67" y="422.00" width="8.26" height="8.30" fill="#febc34"/><rect x="102.62" y="422.00" width="8.26" height="8.30" fill="#fa6419"/><rect x="110.58" y="422.00" width="8.26" height="8.30" fill="#fa6419"/><rect x="118.54" y="422.00" width="8.26" height="8.30" fill="#fa6419"/><rect x="126.50" y="422.00" width="8.26" height="8.30" fill="#fda02d"/><rect x="134.46" y="422.00" width="8.26" height="8.30" fill="#fda02d"/><rect x="142.42" y="422.00" width="8.26" height="8.30" fill="#fda02d"/><rect x="150.38" y="422.00" width="8.26" height="8.30" fill="#f80c0c"/><rect x="158.33" y="422.00" width="8.26" height="8.30" fill="#fa6419"/><rect x="166.29" y="422.00" width="8.26" height="8.30" fill="#eee252"/><rect x="174.25" y="422.00" width="8.26" height="8.30" fill="#eee252"/><rect x="182.21" y="422.00" width="8.26" height="8.30" fill="#febc34"/><rect x="190.17" y="422.00" width="8.26" height="8.30" fill="#eee252"/><rect x="198.12" y="422.00" width="8.26" height="8.30" fill="#fda02d"/><rect x="206.08" y="422.00" width="8.26" height="8.30" fill="#ffd93a"/><rect x="214.04" y="422.00" width="16.26" height="8.30" fill="#eee252"/><rect x="23.00" y="430.00" width="16.26" height="8.30" fill="#febc34"/><rect x="38.96" y="430.00" width="8.26" height="8.30" fill="#febc34"/><rect x="46.92" y="430.00" width="8.26" height="8.30" fill="#febc34"/><rect x="54.88" y="430.00" width="8.26" height="8.30" fill="#ffd93a"/><rect x="62.83" y="430.00" width="8.26" height="8.30" fill="#fda02d"/><rect x="70.79" y="430.00" width="8.26" height="8.30" fill="#fda02d"/><rect x="78.75" y="430.00" width="8.26" height="8.30" fill="#fda02d"/><rect x="86.71" y="430.00" width="8.26" height="8.30" fill="#fa6419"/><rect x="94.67" y="430.00" width="8.26" height="8.30" fill="#fa6419"/><rect x="102.62" y="430.00" width="8.26" height="8.30" fill="#fda02d"/><rect x="110.58" y="430.00" width="8.26" height="8.30" fill="#fda02d"/><rect x="118.54" y="430.00" width="8.26" height="8.30" fill="#fda02d"/><rect x="126.50" y="430.00" width="8.26" height="8.30" fill="#fda02d"/><rect x="134.46" y="430.00" width="8.26" height="8.30" fill="#fda02d"/><rect x="142.42" y="430.00" width="8.26" height="8.30" fill="#fda02d"/><rect x="150.38" y="430.00" width="8.26" height="8.30" fill="#f80c0c"/><rect x="158.33" y="430.00" width="8.26" height="8.30" fill="#febc34"/><rect x="166.29" y="430.00" width="8.26" height="8.30" fill="#ffd93a"/><rect x="174.25" y="430.00" width="8.26" height="8.30" fill="#fda02d"/><rect x="182.21" y="430.00" width="8.26" height="8.30" fill="#ffd93a"/><rect x="190.17" y="430.00" width="8.26" height="8.30" fill="#ffd93a"/><rect x="198.12" y="430.00" width="8.26" height="8.30" fill="#eee252"/><rect x="206.08" y="430.00" width="8.26" height="8.30" fill="#febc34"/><rect x="214.04" y="430.00" width="16.26" height="8.30" fill="#eee252"/><rect x="23.00" y="438.00" width="16.26" height="8.30" fill="#9bcd8c"/><rect x="38.96" y="438.00" width="8.26" height="8.30" fill="#fa6419"/><rect x="46.92" y="438.00" width="8.26" height="8.30" fill="#fa6419"/><rect x="54.88" y="438.00" width="8.26" height="8.30" fill="#ffd93a"/><rect x="62.83" y="438.00" width="8.26" height="8.30" fill="#ffd93a"/><rect x="70.79" y="438.00" width="8.26" height="8.30" fill="#ffd93a"/><rect x="78.75" y="438.00" width="8.26" height="8.30" fill="#febc34"/><rect x="86.71" y="438.00" width="8.26" height="8.30" fill="#febc34"/><rect x="94.67" y="438.00" width="8.26" height="8.30" fill="#fa6419"/><rect x="102.62" y="438.00" width="8.26" height="8.30" fill="#febc34"/><rect x="110.58" y="438.00" width="8.26" height="8.30" fill="#fda02d"/><rect x="118.54" y="438.00" width="8.26" height="8.30" fill="#fda02d"/><rect x="126.50" y="438.00" width="8.26" height="8.30" fill="#fda02d"/><rect x="134.46" y="438.00" width="8.26" height="8.30" fill="#ffd93a"/><rect x="142.42" y="438.00" width="8.26" height="8.30" fill="#febc34"/><rect x="150.38" y="438.00" width="8.26" height="8.30" fill="#fa6419"/><rect x="158.33" y="438.00" width="8.26" height="8.30" fill="#eee252"/><rect x="166.29" y="438.00" width="8.26" height="8.30" fill="#eee252"/><rect x="174.25" y="438.00" width="8.26" height="8.30" fill="#eee252"/><rect x="182.21" y="438.00" width="8.26" height="8.30" fill="#febc34"/><rect x="190.17" y="438.00" width="8.26" height="8.30" fill="#ffd93a"/><rect x="198.12" y="438.00" width="8.26" height="8.30" fill="#eee252"/><rect x="206.08" y="438.00" width="8.26" height="8.30" fill="#eee252"/><rect x="214.04" y="438.00" width="16.26" height="8.30" fill="#eee252"/><rect x="23.00" y="446.00" width="16.26" height="8.30" fill="#46aab4"/><rect x="38.96" y="446.00" width="8.26" height="8.30" fill="#fda02d"/><rect x="46.92" y="446.00" width="8.26" height="8.30" fill="#fa6419"/><rect x="54.88" y="446.00" width="8.26" height="8.30" fill="#fa6419"/><rect x="62.83" y="446.00" width="8.26" height="8.30" fill="#ffd93a"/><rect x="70.79" y="446.00" width="8.26" height="8.30" fill="#ffd93a"/><rect x="78.75" y="446.00" width="8.26" height="8.30" fill="#febc34"/><rect x="86.71" y="446.00" width="8.26" height="8.30" fill="#fa6419"/><rect x="94.67" y="446.00" width="8.26" height="8.30" fill="#fda02d"/><rect x="102.62" y="446.00" width="8.26" height="8.30" fill="#fda02d"/><rect x="110.58" y="446.00" width="8.26" height="8.30" fill="#fda02d"/><rect x="118.54" y="446.00" width="8.26" height="8.30" fill="#fda02d"/><rect x="126.50" y="446.00" width="8.26" height="8.30" fill="#fa6419"/><rect x="134.46" y="446.00" width="8.26" height="8.30" fill="#fda02d"/><rect x="142.42" y="446.00" width="8.26" height="8.30" fill="#fda02d"/><rect x="150.38" y="446.00" width="8.26" height="8.30" fill="#febc34"/><rect x="158.33" y="446.00" width="8.26" height="8.30" fill="#eee252"/><rect x="166.29" y="446.00" width="8.26" height="8.30" fill="#ffd93a"/><rect x="174.25" y="446.00" width="8.26" height="8.30" fill="#ffd93a"/><rect x="182.21" y="446.00" width="8.26" height="8.30" fill="#eee252"/><rect x="190.17" y="446.00" width="8.26" height="8.30" fill="#fa6419"/><rect x="198.12" y="446.00" width="8.26" height="8.30" fill="#eee252"/><rect x="206.08" y="446.00" width="8.26" height="8.30" fill="#dceb69"/><rect x="214.04" y="446.00" width="16.26" height="8.30" fill="#eee252"/><rect x="23.00" y="454.00" width="16.26" height="8.30" fill="#2b9bc0"/><rect x="38.96" y="454.00" width="8.26" height="8.30" fill="#2b9bc0"/><rect x="46.92" y="454.00" width="8.26" height="8.30" fill="#dceb69"/><rect x="54.88" y="454.00" width="8.26" height="8.30" fill="#fda02d"/><rect x="62.83" y="454.00" width="8.26" height="8.30" fill="#eee252"/><rect x="70.79" y="454.00" width="8.26" height="8.30" fill="#ffd93a"/><rect x="78.75" y="454.00" width="8.26" height="8.30" fill="#febc34"/><rect x="86.71" y="454.00" width="8.26" height="8.30" fill="#fa6419"/><rect x="94.67" y="454.00" width="8.26" height="8.30" fill="#fa6419"/><rect x="102.62" y="454.00" width="8.26" height="8.30" fill="#fda02d"/><rect x="110.58" y="454.00" width="8.26" height="8.30" fill="#fda02d"/><rect x="118.54" y="454.00" width="8.26" height="8.30" fill="#fda02d"/><rect x="126.50" y="454.00" width="8.26" height="8.30" fill="#fa6419"/><rect x="134.46" y="454.00" width="8.26" height="8.30" fill="#fda02d"/><rect x="142.42" y="454.00" width="8.26" height="8.30" fill="#fda02d"/><rect x="150.38" y="454.00" width="8.26" height="8.30" fill="#febc34"/><rect x="158.33" y="454.00" width="8.26" height="8.30" fill="#eee252"/><rect x="166.29" y="454.00" width="8.26" height="8.30" fill="#eee252"/><rect x="174.25" y="454.00" width="8.26" height="8.30" fill="#eee252"/><rect x="182.21" y="454.00" width="8.26" height="8.30" fill="#dceb69"/><rect x="190.17" y="454.00" width="8.26" height="8.30" fill="#9bcd8c"/><rect x="198.12" y="454.00" width="8.26" height="8.30" fill="#fa6419"/><rect x="206.08" y="454.00" width="8.26" height="8.30" fill="#fa6419"/><rect x="214.04" y="454.00" width="16.26" height="8.30" fill="#dceb69"/><rect x="23.00" y="462.00" width="16.26" height="8.30" fill="#108ccd"/><rect x="38.96" y="462.00" width="8.26" height="8.30" fill="#2b9bc0"/><rect x="46.92" y="462.00" width="8.26" height="8.30" fill="#46aab4"/><rect x="54.88" y="462.00" width="8.26" height="8.30" fill="#9bcd8c"/><rect x="62.83" y="462.00" width="8.26" height="8.30" fill="#dceb69"/><rect x="70.79" y="462.00" width="8.26" height="8.30" fill="#ffd93a"/><rect x="78.75" y="462.00" width="8.26" height="8.30" fill="#febc34"/><rect x="86.71" y="462.00" width="8.26" height="8.30" fill="#fda02d"/><rect x="94.67" y="462.00" width="8.26" height="8.30" fill="#ffd93a"/><rect x="102.62" y="462.00" width="8.26" height="8.30" fill="#fda02d"/><rect x="110.58" y="462.00" width="8.26" height="8.30" fill="#fda02d"/><rect x="118.54" y="462.00" width="8.26" height="8.30" fill="#fda02d"/><rect x="126.50" y="462.00" width="8.26" height="8.30" fill="#fda02d"/><rect x="134.46" y="462.00" width="8.26" height="8.30" fill="#fda02d"/><rect x="142.42" y="462.00" width="8.26" height="8.30" fill="#febc34"/><rect x="150.38" y="462.00" width="8.26" height="8.30" fill="#fda02d"/><rect x="158.33" y="462.00" width="8.26" height="8.30" fill="#eee252"/><rect x="166.29" y="462.00" width="8.26" height="8.30" fill="#eee252"/><rect x="174.25" y="462.00" width="8.26" height="8.30" fill="#eee252"/><rect x="182.21" y="462.00" width="8.26" height="8.30" fill="#dceb69"/><rect x="190.17" y="462.00" width="8.26" height="8.30" fill="#9bcd8c"/><rect x="198.12" y="462.00" width="8.26" height="8.30" fill="#9bcd8c"/><rect x="206.08" y="462.00" width="8.26" height="8.30" fill="#dceb69"/><rect x="214.04" y="462.00" width="16.26" height="8.30" fill="#9bcd8c"/><rect x="23.00" y="470.00" width="16.26" height="8.30" fill="#108ccd"/><rect x="38.96" y="470.00" width="8.26" height="8.30" fill="#2b9bc0"/><rect x="46.92" y="470.00" width="8.26" height="8.30" fill="#46aab4"/><rect x="54.88" y="470.00" width="8.26" height="8.30" fill="#9bcd8c"/><rect x="62.83" y="470.00" width="8.26" height="8.30" fill="#ffd93a"/><rect x="70.79" y="470.00" width="8.26" height="8.30" fill="#fa6419"/><rect x="78.75" y="470.00" width="8.26" height="8.30" fill="#febc34"/><rect x="86.71" y="470.00" width="8.26" height="8.30" fill="#ffd93a"/><rect x="94.67" y="470.00" width="8.26" height="8.30" fill="#ffd93a"/><rect x="102.62" y="470.00" width="8.26" height="8.30" fill="#febc34"/><rect x="110.58" y="470.00" width="8.26" height="8.30" fill="#fda02d"/><rect x="118.54" y="470.00" width="8.26" height="8.30" fill="#fda02d"/><rect x="126.50" y="470.00" width="8.26" height="8.30" fill="#fda02d"/><rect x="134.46" y="470.00" width="8.26" height="8.30" fill="#fa6419"/><rect x="142.42" y="470.00" width="8.26" height="8.30" fill="#fa6419"/><rect x="150.38" y="470.00" width="8.26" height="8.30" fill="#febc34"/><rect x="158.33" y="470.00" width="8.26" height="8.30" fill="#ffd93a"/><rect x="166.29" y="470.00" width="8.26" height="8.30" fill="#eee252"/><rect x="174.25" y="470.00" width="8.26" height="8.30" fill="#eee252"/><rect x="182.21" y="470.00" width="8.26" height="8.30" fill="#dceb69"/><rect x="190.17" y="470.00" width="8.26" height="8.30" fill="#9bcd8c"/><rect x="198.12" y="470.00" width="8.26" height="8.30" fill="#9bcd8c"/><rect x="206.08" y="470.00" width="8.26" height="8.30" fill="#dceb69"/><rect x="214.04" y="470.00" width="16.26" height="8.30" fill="#9bcd8c"/><rect x="23.00" y="478.00" width="16.26" height="8.30" fill="#9bcd8c"/><rect x="38.96" y="478.00" width="8.26" height="8.30" fill="#46aab4"/><rect x="46.92" y="478.00" width="8.26" height="8.30" fill="#46aab4"/><rect x="54.88" y="478.00" width="8.26" height="8.30" fill="#9bcd8c"/><rect x="62.83" y="478.00" width="8.26" height="8.30" fill="#9bcd8c"/><rect x="70.79" y="478.00" width="8.26" height="8.30" fill="#ffd93a"/><rect x="78.75" y="478.00" width="8.26" height="8.30" fill="#dceb69"/><rect x="86.71" y="478.00" width="8.26" height="8.30" fill="#ffd93a"/><rect x="94.67" y="478.00" width="8.26" height="8.30" fill="#ffd93a"/><rect x="102.62" y="478.00" width="8.26" height="8.30" fill="#febc34"/><rect x="110.58" y="478.00" width="8.26" height="8.30" fill="#febc34"/><rect x="118.54" y="478.00" width="8.26" height="8.30" fill="#fda02d"/><rect x="126.50" y="478.00" width="8.26" height="8.30" fill="#fda02d"/><rect x="134.46" y="478.00" width="8.26" height="8.30" fill="#febc34"/><rect x="142.42" y="478.00" width="8.26" height="8.30" fill="#fda02d"/><rect x="150.38" y="478.00" width="8.26" height="8.30" fill="#ffd93a"/><rect x="158.33" y="478.00" width="8.26" height="8.30" fill="#eee252"/><rect x="166.29" y="478.00" width="8.26" height="8.30" fill="#eee252"/><rect x="174.25" y="478.00" width="8.26" height="8.30" fill="#eee252"/><rect x="182.21" y="478.00" width="8.26" height="8.30" fill="#9bcd8c"/><rect x="190.17" y="478.00" width="8.26" height="8.30" fill="#9bcd8c"/><rect x="198.12" y="478.00" width="8.26" height="8.30" fill="#9bcd8c"/><rect x="206.08" y="478.00" width="8.26" height="8.30" fill="#9bcd8c"/><rect x="214.04" y="478.00" width="16.26" height="8.30" fill="#46aab4"/><rect x="23.00" y="486.00" width="16.26" height="8.30" fill="#2b9bc0"/><rect x="38.96" y="486.00" width="8.26" height="8.30" fill="#9bcd8c"/><rect x="46.92" y="486.00" width="8.26" height="8.30" fill="#ffd93a"/><rect x="54.88" y="486.00" width="8.26" height="8.30" fill="#46aab4"/><rect x="62.83" y="486.00" width="8.26" height="8.30" fill="#dceb69"/><rect x="70.79" y="486.00" width="8.26" height="8.30" fill="#9bcd8c"/><rect x="78.75" y="486.00" width="8.26" height="8.30" fill="#9bcd8c"/><rect x="86.71" y="486.00" width="8.26" height="8.30" fill="#febc34"/><rect x="94.67" y="486.00" width="8.26" height="8.30" fill="#eee252"/><rect x="102.62" y="486.00" width="8.26" height="8.30" fill="#ffd93a"/><rect x="110.58" y="486.00" width="8.26" height="8.30" fill="#febc34"/><rect x="118.54" y="486.00" width="8.26" height="8.30" fill="#fa6419"/><rect x="126.50" y="486.00" width="8.26" height="8.30" fill="#fa6419"/><rect x="134.46" y="486.00" width="8.26" height="8.30" fill="#ffd93a"/><rect x="142.42" y="486.00" width="8.26" height="8.30" fill="#ffd93a"/><rect x="150.38" y="486.00" width="8.26" height="8.30" fill="#eee252"/><rect x="158.33" y="486.00" width="8.26" height="8.30" fill="#9bcd8c"/><rect x="166.29" y="486.00" width="8.26" height="8.30" fill="#9bcd8c"/><rect x="174.25" y="486.00" width="8.26" height="8.30" fill="#9bcd8c"/><rect x="182.21" y="486.00" width="8.26" height="8.30" fill="#46aab4"/><rect x="190.17" y="486.00" width="8.26" height="8.30" fill="#46aab4"/><rect x="198.12" y="486.00" width="8.26" height="8.30" fill="#9bcd8c"/><rect x="206.08" y="486.00" width="8.26" height="8.30" fill="#9bcd8c"/><rect x="214.04" y="486.00" width="16.26" height="8.30" fill="#dceb69"/><rect x="23.00" y="494.00" width="16.26" height="8.30" fill="#2b9bc0"/><rect x="38.96" y="494.00" width="8.26" height="8.30" fill="#dceb69"/><rect x="46.92" y="494.00" width="8.26" height="8.30" fill="#fa6419"/><rect x="54.88" y="494.00" width="8.26" height="8.30" fill="#fda02d"/><rect x="62.83" y="494.00" width="8.26" height="8.30" fill="#9bcd8c"/><rect x="70.79" y="494.00" width="8.26" height="8.30" fill="#ffd93a"/><rect x="78.75" y="494.00" width="8.26" height="8.30" fill="#fa6419"/><rect x="86.71" y="494.00" width="8.26" height="8.30" fill="#fa6419"/><rect x="94.67" y="494.00" width="8.26" height="8.30" fill="#ffd93a"/><rect x="102.62" y="494.00" width="8.26" height="8.30" fill="#ffd93a"/><rect x="110.58" y="494.00" width="8.26" height="8.30" fill="#eee252"/><rect x="118.54" y="494.00" width="8.26" height="8.30" fill="#fa6419"/><rect x="126.50" y="494.00" width="8.26" height="8.30" fill="#fa6419"/><rect x="134.46" y="494.00" width="8.26" height="8.30" fill="#ffd93a"/><rect x="142.42" y="494.00" width="8.26" height="8.30" fill="#dceb69"/><rect x="150.38" y="494.00" width="8.26" height="8.30" fill="#eee252"/><rect x="158.33" y="494.00" width="8.26" height="8.30" fill="#9bcd8c"/><rect x="166.29" y="494.00" width="8.26" height="8.30" fill="#dceb69"/><rect x="174.25" y="494.00" width="8.26" height="8.30" fill="#46aab4"/><rect x="182.21" y="494.00" width="8.26" height="8.30" fill="#46aab4"/><rect x="190.17" y="494.00" width="8.26" height="8.30" fill="#2b9bc0"/><rect x="198.12" y="494.00" width="8.26" height="8.30" fill="#2b9bc0"/><rect x="206.08" y="494.00" width="8.26" height="8.30" fill="#46aab4"/><rect x="214.04" y="494.00" width="16.26" height="8.30" fill="#9bcd8c"/><rect x="23.00" y="502.00" width="16.26" height="8.30" fill="#46aab4"/><rect x="38.96" y="502.00" width="8.26" height="8.30" fill="#dceb69"/><rect x="46.92" y="502.00" width="8.26" height="8.30" fill="#fa6419"/><rect x="54.88" y="502.00" width="8.26" height="8.30" fill="#fda02d"/><rect x="62.83" y="502.00" width="8.26" height="8.30" fill="#dceb69"/><rect x="70.79" y="502.00" width="8.26" height="8.30" fill="#fa6419"/><rect x="78.75" y="502.00" width="8.26" height="8.30" fill="#fa6419"/><rect x="86.71" y="502.00" width="8.26" height="8.30" fill="#ffd93a"/><rect x="94.67" y="502.00" width="8.26" height="8.30" fill="#eee252"/><rect x="102.62" y="502.00" width="8.26" height="8.30" fill="#eee252"/><rect x="110.58" y="502.00" width="8.26" height="8.30" fill="#ffd93a"/><rect x="118.54" y="502.00" width="8.26" height="8.30" fill="#fa6419"/><rect x="126.50" y="502.00" width="8.26" height="8.30" fill="#fda02d"/><rect x="134.46" y="502.00" width="8.26" height="8.30" fill="#ffd93a"/><rect x="142.42" y="502.00" width="8.26" height="8.30" fill="#ffd93a"/><rect x="150.38" y="502.00" width="8.26" height="8.30" fill="#febc34"/><rect x="158.33" y="502.00" width="8.26" height="8.30" fill="#ffd93a"/><rect x="166.29" y="502.00" width="8.26" height="8.30" fill="#9bcd8c"/><rect x="174.25" y="502.00" width="8.26" height="8.30" fill="#46aab4"/><rect x="182.21" y="502.00" width="8.26" height="8.30" fill="#2b9bc0"/><rect x="190.17" y="502.00" width="8.26" height="8.30" fill="#108ccd"/><rect x="198.12" y="502.00" width="8.26" height="8.30" fill="#108ccd"/><rect x="206.08" y="502.00" width="8.26" height="8.30" fill="#2b9bc0"/><rect x="214.04" y="502.00" width="16.26" height="8.30" fill="#46aab4"/><rect x="23.00" y="510.00" width="16.26" height="16.30" fill="#dceb69"/><rect x="38.96" y="510.00" width="8.26" height="16.30" fill="#fda02d"/><rect x="46.92" y="510.00" width="8.26" height="16.30" fill="#fa6419"/><rect x="54.88" y="510.00" width="8.26" height="16.30" fill="#dceb69"/><rect x="62.83" y="510.00" width="8.26" height="16.30" fill="#fa6419"/><rect x="70.79" y="510.00" width="8.26" height="16.30" fill="#fa6419"/><rect x="78.75" y="510.00" width="8.26" height="16.30" fill="#fda02d"/><rect x="86.71" y="510.00" width="8.26" height="16.30" fill="#ffd93a"/><rect x="94.67" y="510.00" width="8.26" height="16.30" fill="#eee252"/><rect x="102.62" y="510.00" width="8.26" height="16.30" fill="#eee252"/><rect x="110.58" y="510.00" width="8.26" height="16.30" fill="#ffd93a"/><rect x="118.54" y="510.00" width="8.26" height="16.30" fill="#fa6419"/><rect x="126.50" y="510.00" width="8.26" height="16.30" fill="#fa6419"/><rect x="134.46" y="510.00" width="8.26" height="16.30" fill="#fda02d"/><rect x="142.42" y="510.00" width="8.26" height="16.30" fill="#febc34"/><rect x="150.38" y="510.00" width="8.26" height="16.30" fill="#ffd93a"/><rect x="158.33" y="510.00" width="8.26" height="16.30" fill="#febc34"/><rect x="166.29" y="510.00" width="8.26" height="16.30" fill="#dceb69"/><rect x="174.25" y="510.00" width="8.26" height="16.30" fill="#2b9bc0"/><rect x="182.21" y="510.00" width="8.26" height="16.30" fill="#108ccd"/><rect x="190.17" y="510.00" width="8.26" height="16.30" fill="#108ccd"/><rect x="198.12" y="510.00" width="8.26" height="16.30" fill="#2b9bc0"/><rect x="206.08" y="510.00" width="8.26" height="16.30" fill="#9bcd8c"/><rect x="214.04" y="510.00" width="16.26" height="16.30" fill="#dceb69"/></g></g>
<rect x="17.5" y="42.5" width="216.5" height="210.0" fill="none" stroke="#111" stroke-width="1.4"/>
<line x1="81.5" y1="38.5" x2="81.5" y2="42.5" stroke="#111" stroke-width="1.2"/>
<line x1="151.6" y1="38.5" x2="151.6" y2="42.5" stroke="#111" stroke-width="1.2"/>
<line x1="221" y1="38.5" x2="221" y2="42.5" stroke="#111" stroke-width="1.2"/>
<line x1="78" y1="252.5" x2="78" y2="257.0" stroke="#111" stroke-width="1.2"/>
<line x1="148.5" y1="252.5" x2="148.5" y2="257.0" stroke="#111" stroke-width="1.2"/>
<line x1="219" y1="252.5" x2="219" y2="257.0" stroke="#111" stroke-width="1.2"/>
<line x1="13.0" y1="91.4" x2="17.5" y2="91.4" stroke="#111" stroke-width="1.2"/>
<line x1="13.0" y1="170.5" x2="17.5" y2="170.5" stroke="#111" stroke-width="1.2"/>
<line x1="13.0" y1="249.7" x2="17.5" y2="249.7" stroke="#111" stroke-width="1.2"/>
<line x1="234" y1="93.9" x2="238.5" y2="93.9" stroke="#111" stroke-width="1.2"/>
<line x1="234" y1="172" x2="238.5" y2="172" stroke="#111" stroke-width="1.2"/>
<text x="81.5" y="36" class="sm" text-anchor="middle">85°16'30&quot;E</text>
<text x="151.6" y="36" class="sm" text-anchor="middle">85°21'0&quot;E</text>
<text x="221" y="36" class="sm" text-anchor="middle">85°25'30&quot;E</text>
<text x="78" y="264.5" class="sm" text-anchor="middle">85°16'30&quot;E</text>
<text x="148.5" y="264.5" class="sm" text-anchor="middle">85°21'0&quot;E</text>
<text x="219" y="264.5" class="sm" text-anchor="middle">85°25'30&quot;E</text>
<text transform="translate(10.3,91.4) rotate(-90)" class="sm" text-anchor="middle">27°45'0&quot;N</text>
<text transform="translate(10.3,170.5) rotate(-90)" class="sm" text-anchor="middle">27°40'30&quot;N</text>
<text transform="translate(10.3,249.7) rotate(-90)" class="sm" text-anchor="middle">27°36'0&quot;N</text>
<text transform="translate(245.3,93.9) rotate(-90)" class="sm" text-anchor="middle">27°45'0&quot;N</text>
<text transform="translate(245.3,172) rotate(-90)" class="sm" text-anchor="middle">27°40'30&quot;N</text>
<rect x="269.5" y="42.5" width="216.5" height="214.3" fill="none" stroke="#111" stroke-width="1.4"/>
<line x1="331" y1="38.5" x2="331" y2="42.5" stroke="#111" stroke-width="1.2"/>
<line x1="403.6" y1="38.5" x2="403.6" y2="42.5" stroke="#111" stroke-width="1.2"/>
<line x1="475.5" y1="38.5" x2="475.5" y2="42.5" stroke="#111" stroke-width="1.2"/>
<line x1="328.5" y1="256.8" x2="328.5" y2="261.3" stroke="#111" stroke-width="1.2"/>
<line x1="401" y1="256.8" x2="401" y2="261.3" stroke="#111" stroke-width="1.2"/>
<line x1="473" y1="256.8" x2="473" y2="261.3" stroke="#111" stroke-width="1.2"/>
<line x1="265.0" y1="91.4" x2="269.5" y2="91.4" stroke="#111" stroke-width="1.2"/>
<line x1="265.0" y1="173.1" x2="269.5" y2="173.1" stroke="#111" stroke-width="1.2"/>
<line x1="265.0" y1="255.1" x2="269.5" y2="255.1" stroke="#111" stroke-width="1.2"/>
<line x1="486" y1="94.4" x2="490.5" y2="94.4" stroke="#111" stroke-width="1.2"/>
<line x1="486" y1="176.1" x2="490.5" y2="176.1" stroke="#111" stroke-width="1.2"/>
<text x="331" y="36" class="sm" text-anchor="middle">85°16'30&quot;E</text>
<text x="403.6" y="36" class="sm" text-anchor="middle">85°21'0&quot;E</text>
<text x="475.5" y="36" class="sm" text-anchor="middle">85°25'30&quot;E</text>
<text x="328.5" y="268.5" class="sm" text-anchor="middle">85°16'30&quot;E</text>
<text x="401" y="268.5" class="sm" text-anchor="middle">85°21'0&quot;E</text>
<text x="473" y="268.5" class="sm" text-anchor="middle">85°25'30&quot;E</text>
<text transform="translate(262,91.4) rotate(-90)" class="sm" text-anchor="middle">27°45'0&quot;N</text>
<text transform="translate(262,173.1) rotate(-90)" class="sm" text-anchor="middle">27°40'30&quot;N</text>
<text transform="translate(262,255.1) rotate(-90)" class="sm" text-anchor="middle">27°36'0&quot;N</text>
<text transform="translate(497,94.4) rotate(-90)" class="sm" text-anchor="middle">27°45'0&quot;N</text>
<text transform="translate(497,176.1) rotate(-90)" class="sm" text-anchor="middle">27°40'30&quot;N</text>
<rect x="17.8" y="316.8" width="217.7" height="210.49999999999994" fill="none" stroke="#111" stroke-width="1.4"/>
<line x1="82" y1="312.8" x2="82" y2="316.8" stroke="#111" stroke-width="1.2"/>
<line x1="152.5" y1="312.8" x2="152.5" y2="316.8" stroke="#111" stroke-width="1.2"/>
<line x1="222.5" y1="312.8" x2="222.5" y2="316.8" stroke="#111" stroke-width="1.2"/>
<line x1="78" y1="527.3" x2="78" y2="531.8" stroke="#111" stroke-width="1.2"/>
<line x1="149.5" y1="527.3" x2="149.5" y2="531.8" stroke="#111" stroke-width="1.2"/>
<line x1="220" y1="527.3" x2="220" y2="531.8" stroke="#111" stroke-width="1.2"/>
<line x1="13.3" y1="365.5" x2="17.8" y2="365.5" stroke="#111" stroke-width="1.2"/>
<line x1="13.3" y1="444.1" x2="17.8" y2="444.1" stroke="#111" stroke-width="1.2"/>
<line x1="13.3" y1="524" x2="17.8" y2="524" stroke="#111" stroke-width="1.2"/>
<line x1="235.5" y1="366.8" x2="240.0" y2="366.8" stroke="#111" stroke-width="1.2"/>
<line x1="235.5" y1="447.8" x2="240.0" y2="447.8" stroke="#111" stroke-width="1.2"/>
<text x="82" y="310" class="sm" text-anchor="middle">85°16'30&quot;E</text>
<text x="152.5" y="310" class="sm" text-anchor="middle">85°21'0&quot;E</text>
<text x="222.5" y="310" class="sm" text-anchor="middle">85°25'30&quot;E</text>
<text x="78" y="539.5" class="sm" text-anchor="middle">85°16'30&quot;E</text>
<text x="149.5" y="539.5" class="sm" text-anchor="middle">85°21'0&quot;E</text>
<text x="220" y="539.5" class="sm" text-anchor="middle">85°25'30&quot;E</text>
<text transform="translate(10.3,365.5) rotate(-90)" class="sm" text-anchor="middle">27°45'0&quot;N</text>
<text transform="translate(10.3,444.1) rotate(-90)" class="sm" text-anchor="middle">27°40'30&quot;N</text>
<text transform="translate(10.3,524) rotate(-90)" class="sm" text-anchor="middle">27°36'0&quot;N</text>
<text transform="translate(246,366.8) rotate(-90)" class="sm" text-anchor="middle">27°45'0&quot;N</text>
<text transform="translate(246,447.8) rotate(-90)" class="sm" text-anchor="middle">27°40'30&quot;N</text>
<text x="4" y="14.3" class="lab">(a)</text>
<text x="76.2" y="14.2" class="ttl">Mean LST (°C) - 18.94</text>
<text x="261.6" y="14.3" class="lab">(b)</text>
<text x="337.4" y="14.2" class="ttl" style="font-size:10.95px">Mean LST (°C) - 25.19</text>
<text x="3.9" y="291.4" class="lab">(c)</text>
<text x="72.4" y="291.4" class="ttl" style="font-size:10.8px">Mean LST (°C) - 26.11</text>
<text x="155" y="112.5" class="ann" text-anchor="middle">Tribhuvan</text>
<text x="154.8" y="125.2" class="ann" text-anchor="middle">International Airport</text>
<line x1="163.6" y1="127" x2="163.6" y2="138" stroke="#222" stroke-width="0.9"/>
<polygon points="125.40,143.40 126.51,146.58 129.87,146.65 127.19,148.68 128.16,151.90 125.40,149.98 122.64,151.90 123.61,148.68 120.93,146.65 124.29,146.58" fill="#000"/>
<polygon points="377.10,145.90 378.16,148.94 381.38,149.01 378.81,150.96 379.75,154.04 377.10,152.20 374.45,154.04 375.39,150.96 372.82,149.01 376.04,148.94" fill="#000"/>
<polygon points="126.30,417.50 127.38,420.61 130.67,420.68 128.05,422.67 129.00,425.82 126.30,423.94 123.60,425.82 124.55,422.67 121.93,420.68 125.22,420.61" fill="#000"/>
<text x="310.6" y="323.5" class="lgt">LST (°C)</text>
<rect x="311" y="335.2" width="25.6" height="13.1" fill="#0b8bcc" stroke="#777" stroke-width="0.8"/>
<text x="341.5" y="345.5" class="lg">&lt; 10</text>
<rect x="311" y="353.4" width="25.6" height="13.1" fill="#4aa9b0" stroke="#777" stroke-width="0.8"/>
<text x="341.5" y="363.7" class="lg">10–12</text>
<rect x="311" y="371.6" width="25.6" height="13.1" fill="#9dcc8e" stroke="#777" stroke-width="0.8"/>
<text x="341.5" y="381.90000000000003" class="lg">12–14</text>
<rect x="311" y="389.8" width="25.6" height="13.1" fill="#d9e66f" stroke="#777" stroke-width="0.8"/>
<text x="341.5" y="400.1" class="lg">14–18</text>
<rect x="311" y="408.1" width="25.6" height="13.1" fill="#fcd84b" stroke="#777" stroke-width="0.8"/>
<text x="341.5" y="418.40000000000003" class="lg">18–22</text>
<rect x="311" y="426.3" width="25.6" height="13.1" fill="#fb9d3b" stroke="#777" stroke-width="0.8"/>
<text x="341.5" y="436.6" class="lg">22–26</text>
<rect x="311" y="444.6" width="25.6" height="13.1" fill="#f96523" stroke="#777" stroke-width="0.8"/>
<text x="341.5" y="454.90000000000003" class="lg">26–30</text>
<rect x="311" y="464.5" width="25.6" height="13.1" fill="#f2121c" stroke="#777" stroke-width="0.8"/>
<text x="341.5" y="474.8" class="lg">30 &lt;</text>
<polygon points="294.00,492.80 295.13,496.05 298.57,496.12 295.83,498.19 296.82,501.48 294.00,499.52 291.18,501.48 292.17,498.19 289.43,496.12 292.87,496.05" fill="#000"/>
<text x="312.8" y="500.8" class="cc">City center</text>
<path d="M283.8,526.6 V520.3 H295.6 V526.6 H307.3 V520.3 H319.3 V526.6 H331.3 V520.3 H378.8 V526.6" fill="none" stroke="#333" stroke-width="1"/>
<text x="284" y="538.2" class="sb" text-anchor="middle">0</text>
<text x="307.5" y="538.2" class="sb" text-anchor="middle">2.5</text>
<text x="331.2" y="538.2" class="sb" text-anchor="middle">5</text>
<text x="378.7" y="538.2" class="sb" text-anchor="middle">10</text>
<text x="380.3" y="526.8" class="sb" style="font-size:8.3px">km</text>
<line x1="441" y1="514" x2="441" y2="543.5" stroke="#444" stroke-width="1.2"/>
<polygon points="440.6,513.5 446.2,526.3 440.6,523.8" fill="#000"/>
<text x="441.4" y="542" class="na" text-anchor="middle">N</text>
</svg></body></html>
